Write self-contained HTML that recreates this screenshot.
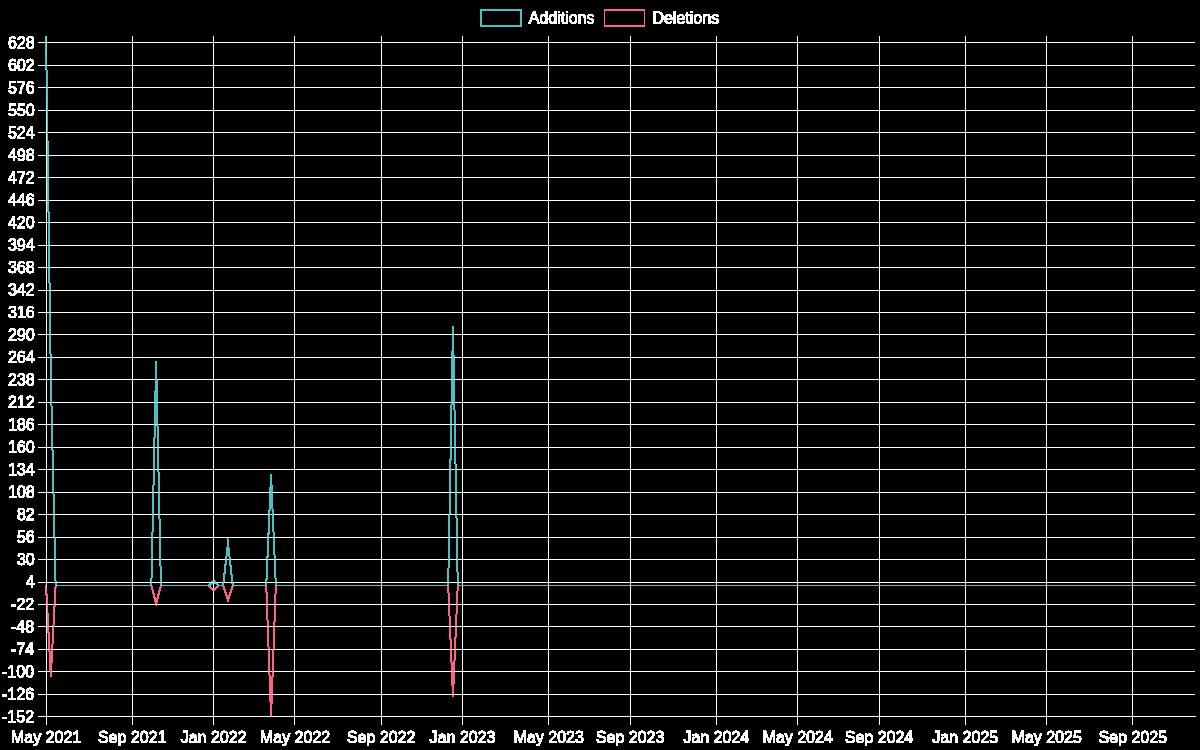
<!DOCTYPE html>
<html lang="en"><head><meta charset="utf-8"><title>Additions and Deletions per week</title>
<style>
html,body{margin:0;padding:0;background:#000;}
body{width:1200px;height:750px;overflow:hidden;font-family:"Liberation Sans",sans-serif;color:#fff;}
svg{display:block;position:absolute;left:0;top:0;shape-rendering:crispEdges;}
.grid rect{fill:#fff;}
.lbl{font-family:"Liberation Sans",sans-serif;font-size:16px;fill:#fff;}
.px{fill:#fff;}
</style></head><body>
<svg width="1200" height="750" viewBox="0 0 1200 750">
<rect width="1200" height="750" fill="#000"/>
<g class="grid">
<rect x="38" y="42" width="1157" height="1"/><rect x="38" y="65" width="1157" height="1"/><rect x="38" y="87" width="1157" height="1"/><rect x="38" y="110" width="1157" height="1"/><rect x="38" y="132" width="1157" height="1"/><rect x="38" y="155" width="1157" height="1"/><rect x="38" y="177" width="1157" height="1"/><rect x="38" y="200" width="1157" height="1"/><rect x="38" y="222" width="1157" height="1"/><rect x="38" y="245" width="1157" height="1"/><rect x="38" y="267" width="1157" height="1"/><rect x="38" y="290" width="1157" height="1"/><rect x="38" y="312" width="1157" height="1"/><rect x="38" y="334" width="1157" height="1"/><rect x="38" y="357" width="1157" height="1"/><rect x="38" y="379" width="1157" height="1"/><rect x="38" y="402" width="1157" height="1"/><rect x="38" y="424" width="1157" height="1"/><rect x="38" y="447" width="1157" height="1"/><rect x="38" y="469" width="1157" height="1"/><rect x="38" y="492" width="1157" height="1"/><rect x="38" y="514" width="1157" height="1"/><rect x="38" y="537" width="1157" height="1"/><rect x="38" y="559" width="1157" height="1"/><rect x="38" y="582" width="1157" height="1"/><rect x="38" y="604" width="1157" height="1"/><rect x="38" y="626" width="1157" height="1"/><rect x="38" y="649" width="1157" height="1"/><rect x="38" y="671" width="1157" height="1"/><rect x="38" y="694" width="1157" height="1"/><rect x="38" y="716" width="1157" height="1"/>
<rect x="46" y="36" width="1" height="689"/><rect x="132" y="36" width="1" height="689"/><rect x="213" y="36" width="1" height="689"/><rect x="294" y="36" width="1" height="689"/><rect x="381" y="36" width="1" height="689"/><rect x="462" y="36" width="1" height="689"/><rect x="548" y="36" width="1" height="689"/><rect x="630" y="36" width="1" height="689"/><rect x="716" y="36" width="1" height="689"/><rect x="797" y="36" width="1" height="689"/><rect x="879" y="36" width="1" height="689"/><rect x="965" y="36" width="1" height="689"/><rect x="1046" y="36" width="1" height="689"/><rect x="1132" y="36" width="1" height="689"/>
<rect x="46" y="716" width="1150" height="1"/>
</g>
<path class="deletions" fill="#ff6384" d="M604 9h41v2h-41zM604 11h1v14h-1zM644 11h1v14h-1zM604 25h41v2h-41zM45 585h1v7h-1zM55 586h1v4h-1zM151 586h2v3h-2zM160 586h2v1h-2zM209 586h2v1h-2zM216 586h3v1h-3zM223 586h1v1h-1zM232 586h1v1h-1zM265 586h2v2h-2zM275 586h2v3h-2zM447 586h2v3h-2zM457 586h2v1h-2zM159 587h2v4h-2zM210 587h2v1h-2zM215 587h3v1h-3zM223 587h2v2h-2zM231 587h2v2h-2zM457 587h1v1h-1zM210 588h3v1h-3zM215 588h2v1h-2zM266 588h1v8h-1zM457 588h2v1h-2zM152 589h1v1h-1zM211 589h2v1h-2zM214 589h2v1h-2zM224 589h1v1h-1zM231 589h1v1h-1zM275 589h1v7h-1zM448 589h1v1h-1zM457 589h1v6h-1zM54 590h2v14h-2zM152 590h2v3h-2zM212 590h1v1h-1zM214 590h1v1h-1zM224 590h2v3h-2zM230 590h2v2h-2zM447 590h2v1h-2zM158 591h2v3h-2zM448 591h1v5h-1zM229 592h2v3h-2zM153 593h1v1h-1zM225 593h2v2h-2zM46 594h1v1h-1zM153 594h2v3h-2zM158 594h1v1h-1zM157 595h2v3h-2zM226 595h1v1h-1zM229 595h1v1h-1zM456 595h2v9h-2zM226 596h4v2h-4zM266 596h2v8h-2zM274 596h2v2h-2zM448 596h2v8h-2zM154 597h1v1h-1zM47 598h1v6h-1zM154 598h2v1h-2zM157 598h1v1h-1zM227 598h2v3h-2zM275 598h1v1h-1zM154 599h4v2h-4zM274 599h2v5h-2zM155 601h3v1h-3zM155 602h2v2h-2zM47 605h1v12h-1zM54 605h1v3h-1zM266 605h2v11h-2zM274 605h2v14h-2zM448 605h2v8h-2zM456 605h2v6h-2zM53 608h2v14h-2zM456 611h1v7h-1zM449 613h1v7h-1zM267 616h1v1h-1zM47 617h2v9h-2zM266 617h2v1h-2zM267 618h1v6h-1zM455 618h2v8h-2zM274 619h1v7h-1zM449 620h2v6h-2zM53 622h1v1h-1zM53 623h2v1h-2zM53 624h1v2h-1zM267 624h2v2h-2zM47 627h2v2h-2zM53 627h1v2h-1zM267 627h2v15h-2zM273 627h2v18h-2zM449 627h2v10h-2zM455 627h2v8h-2zM48 629h1v6h-1zM52 629h2v12h-2zM48 635h2v13h-2zM455 635h1v6h-1zM450 637h1v6h-1zM52 641h1v6h-1zM454 641h2v8h-2zM268 642h1v7h-1zM450 643h2v6h-2zM273 645h1v8h-1zM51 647h2v2h-2zM49 648h1v1h-1zM49 650h1v4h-1zM51 650h2v4h-2zM268 650h1v1h-1zM450 650h2v9h-2zM454 650h2v8h-2zM268 651h2v19h-2zM272 653h2v18h-2zM49 654h4v6h-4zM454 658h1v7h-1zM451 659h1v1h-1zM49 660h3v1h-3zM450 660h2v1h-2zM49 661h4v1h-4zM451 661h1v3h-1zM49 662h3v6h-3zM451 664h2v1h-2zM451 665h1v1h-1zM453 665h2v1h-2zM451 666h4v5h-4zM50 668h2v3h-2zM269 670h1v1h-1zM50 672h2v4h-2zM268 672h2v1h-2zM272 672h2v1h-2zM451 672h4v7h-4zM269 673h1v6h-1zM272 673h1v8h-1zM269 679h2v2h-2zM451 679h3v2h-3zM269 681h4v13h-4zM451 681h4v1h-4zM451 682h3v1h-3zM452 683h2v11h-2zM269 695h4v3h-4zM452 695h2v1h-2zM270 698h3v2h-3zM270 700h2v1h-2zM270 701h3v1h-3zM270 702h2v14h-2z"/>
<path class="additions" fill="#4bc0c0" d="M480 9h41v1h-41zM480 10h42v1h-42zM480 11h2v14h-2zM520 11h2v14h-2zM480 25h42v1h-42zM480 26h41v1h-41zM45 36h1v6h-1zM45 43h1v16h-1zM45 64h1v1h-1zM46 69h1v2h-1zM47 75h1v1h-1zM47 81h1v6h-1zM47 88h1v22h-1zM47 111h1v21h-1zM47 133h1v13h-1zM47 146h2v1h-2zM47 147h1v5h-1zM47 152h2v3h-2zM47 156h2v21h-2zM47 178h2v22h-2zM47 201h2v1h-2zM48 202h1v15h-1zM48 217h2v2h-2zM48 219h1v3h-1zM48 223h2v22h-2zM48 246h2v21h-2zM48 268h2v5h-2zM49 273h1v15h-1zM49 288h2v2h-2zM49 291h1v3h-1zM49 294h2v18h-2zM49 313h2v21h-2zM452 326h2v8h-2zM49 335h2v10h-2zM452 335h2v20h-2zM50 345h1v12h-1zM451 355h3v1h-3zM452 356h2v1h-2zM50 358h1v1h-1zM452 358h2v2h-2zM50 359h2v3h-2zM451 360h3v1h-3zM156 361h1v1h-1zM451 361h4v1h-4zM50 362h1v3h-1zM155 362h2v17h-2zM451 362h3v1h-3zM451 363h4v2h-4zM50 365h2v1h-2zM451 365h3v1h-3zM50 366h1v1h-1zM451 366h4v13h-4zM50 367h2v12h-2zM156 379h1v1h-1zM50 380h2v19h-2zM155 380h2v3h-2zM451 380h4v15h-4zM155 383h3v1h-3zM155 384h2v2h-2zM155 386h3v1h-3zM155 387h2v1h-2zM155 388h3v8h-3zM451 395h1v1h-1zM453 395h2v1h-2zM154 396h4v1h-4zM451 396h4v2h-4zM155 397h3v2h-3zM451 398h1v4h-1zM453 398h2v3h-2zM51 399h1v3h-1zM154 399h4v3h-4zM454 401h1v1h-1zM51 403h1v6h-1zM154 403h4v15h-4zM451 403h1v6h-1zM454 403h1v2h-1zM453 405h2v1h-2zM454 406h1v12h-1zM51 409h2v1h-2zM450 409h2v2h-2zM51 410h1v3h-1zM451 411h1v3h-1zM51 413h2v11h-2zM450 414h2v10h-2zM154 418h2v2h-2zM157 418h1v2h-1zM454 418h2v1h-2zM454 419h1v1h-1zM154 420h4v1h-4zM454 420h2v4h-2zM154 421h2v3h-2zM157 421h1v3h-1zM51 425h2v19h-2zM154 425h2v4h-2zM157 425h1v4h-1zM450 425h2v22h-2zM454 425h2v22h-2zM154 429h1v1h-1zM157 429h2v1h-2zM154 430h2v1h-2zM157 430h1v2h-1zM154 431h1v2h-1zM157 432h2v15h-2zM154 433h2v1h-2zM154 434h1v8h-1zM153 442h2v1h-2zM154 443h1v2h-1zM52 444h1v3h-1zM153 445h2v1h-2zM154 446h1v1h-1zM52 448h1v7h-1zM153 448h2v21h-2zM157 448h2v17h-2zM450 448h2v6h-2zM454 448h2v8h-2zM450 454h1v10h-1zM52 455h2v1h-2zM52 456h1v1h-1zM455 456h1v3h-1zM52 457h2v12h-2zM454 459h2v1h-2zM455 460h1v8h-1zM449 464h2v3h-2zM158 465h1v3h-1zM450 467h1v1h-1zM157 468h2v1h-2zM449 468h2v1h-2zM455 468h2v1h-2zM52 470h2v17h-2zM153 470h2v7h-2zM158 470h1v7h-1zM449 470h2v22h-2zM455 470h1v2h-1zM455 472h2v20h-2zM270 475h2v12h-2zM153 477h1v2h-1zM158 477h2v2h-2zM153 479h2v1h-2zM158 479h1v1h-1zM153 480h1v8h-1zM158 480h2v12h-2zM53 487h1v2h-1zM270 487h3v1h-3zM152 488h2v1h-2zM270 488h2v1h-2zM52 489h2v1h-2zM153 489h1v2h-1zM270 489h3v2h-3zM53 490h1v2h-1zM152 491h2v1h-2zM269 491h4v1h-4zM53 493h1v5h-1zM152 493h2v21h-2zM158 493h2v19h-2zM269 493h4v13h-4zM449 493h2v12h-2zM455 493h2v17h-2zM53 498h2v1h-2zM53 499h1v1h-1zM53 500h2v1h-2zM53 501h1v1h-1zM53 502h2v12h-2zM449 505h1v1h-1zM269 506h2v1h-2zM272 506h1v6h-1zM449 506h2v3h-2zM269 507h1v1h-1zM269 508h2v1h-2zM269 509h1v3h-1zM449 509h1v5h-1zM456 510h1v4h-1zM159 512h1v2h-1zM268 512h2v1h-2zM272 512h2v2h-2zM269 513h1v1h-1zM53 515h2v14h-2zM152 515h2v9h-2zM158 515h2v1h-2zM268 515h2v15h-2zM272 515h2v13h-2zM449 515h1v4h-1zM456 515h1v7h-1zM159 516h1v7h-1zM448 519h2v18h-2zM456 522h2v1h-2zM159 523h2v1h-2zM456 523h1v4h-1zM152 524h1v1h-1zM159 524h1v2h-1zM152 525h2v1h-2zM152 526h1v11h-1zM159 526h2v11h-2zM456 527h2v10h-2zM273 528h1v6h-1zM54 529h1v1h-1zM53 530h2v1h-2zM268 530h1v1h-1zM54 531h1v10h-1zM268 531h2v1h-2zM268 532h1v5h-1zM273 534h2v1h-2zM273 535h1v1h-1zM273 536h2v1h-2zM152 538h1v1h-1zM159 538h2v21h-2zM267 538h2v16h-2zM273 538h2v13h-2zM448 538h2v21h-2zM456 538h2v21h-2zM151 539h2v20h-2zM227 539h1v1h-1zM227 540h2v8h-2zM54 541h2v1h-2zM54 542h1v2h-1zM54 544h2v15h-2zM226 548h3v1h-3zM226 549h4v6h-4zM274 551h1v1h-1zM273 552h2v1h-2zM274 553h1v6h-1zM267 554h1v5h-1zM226 555h1v3h-1zM228 555h2v1h-2zM229 556h1v3h-1zM225 558h2v1h-2zM54 560h2v15h-2zM151 560h2v12h-2zM160 560h1v1h-1zM225 560h2v4h-2zM229 560h2v4h-2zM266 560h2v16h-2zM274 560h2v15h-2zM448 560h1v2h-1zM456 560h2v2h-2zM159 561h2v1h-2zM160 562h1v7h-1zM448 562h2v2h-2zM457 562h1v1h-1zM456 563h2v2h-2zM225 564h1v1h-1zM230 564h1v3h-1zM448 564h1v11h-1zM224 565h2v7h-2zM457 565h1v11h-1zM230 567h2v6h-2zM160 569h2v1h-2zM160 570h1v3h-1zM151 572h1v2h-1zM224 572h1v3h-1zM160 573h2v9h-2zM231 573h1v3h-1zM151 574h2v1h-2zM55 575h1v1h-1zM151 575h1v7h-1zM223 575h2v6h-2zM275 575h1v7h-1zM447 575h2v2h-2zM54 576h2v1h-2zM231 576h2v6h-2zM266 576h1v5h-1zM457 576h2v2h-2zM55 577h1v5h-1zM448 577h1v1h-1zM447 578h2v4h-2zM457 578h1v3h-1zM212 581h1v1h-1zM214 581h1v1h-1zM223 581h1v1h-1zM265 581h2v1h-2zM457 581h2v1h-2zM55 583h1v2h-1zM150 583h2v1h-2zM160 583h2v2h-2zM210 583h2v1h-2zM215 583h2v1h-2zM223 583h1v1h-1zM232 583h1v2h-1zM265 583h2v2h-2zM275 583h2v2h-2zM447 583h2v2h-2zM457 583h2v2h-2zM151 584h1v1h-1zM209 584h2v1h-2zM216 584h2v1h-2zM222 584h2v1h-2zM56 585h95v1h-95zM161 585h48v1h-48zM219 585h4v1h-4zM233 585h33v1h-33zM276 585h172v1h-172zM458 585h737v1h-737z"/>
<g class="blend">
<path fill="#00ffff" d="M47 70h1v1h-1zM47 211h1v1h-1zM48 282h1v1h-1zM451 351h1v1h-1zM49 353h1v1h-1zM454 355h1v1h-1zM154 391h1v1h-1zM450 405h1v1h-1zM453 409h1v1h-1zM156 425h1v1h-1zM449 459h1v1h-1zM451 459h1v1h-1zM159 472h1v1h-1zM272 485h1v1h-1zM52 493h1v1h-1zM270 510h1v1h-1zM450 513h1v1h-1zM153 531h1v1h-1zM269 533h1v1h-1zM266 556h1v1h-1zM224 564h1v1h-1zM231 565h1v1h-1zM449 567h1v1h-1zM458 572h1v1h-1zM150 578h1v1h-1zM265 579h1v1h-1zM211 581h1v1h-1zM214 583h1v1h-1zM210 585h1v1h-1z"/><path fill="#33cccc" d="M45 68h1v1h-1zM47 71h1v1h-1zM48 142h1v1h-1zM47 210h1v1h-1zM49 213h1v1h-1zM48 281h1v1h-1zM49 352h1v1h-1zM450 406h1v1h-1zM449 460h1v1h-1zM157 471h1v1h-1zM54 494h1v1h-1zM450 512h1v1h-1zM153 530h1v1h-1zM272 531h1v1h-1zM151 532h1v1h-1zM275 555h1v1h-1zM449 566h1v1h-1zM458 573h1v1h-1zM230 574h1v1h-1zM276 578h1v1h-1zM211 584h1v1h-1z"/><path fill="#40bfbf" d="M48 280h1v1h-1zM49 351h1v1h-1zM454 356h1v1h-1zM157 380h1v1h-1zM452 403h1v2h-1zM455 411h1v1h-1zM158 426h1v1h-1zM155 436h1v1h-1zM153 439h1v1h-1zM51 448h1v1h-1zM53 450h1v1h-1zM451 458h1v1h-1zM270 474h1v1h-1zM152 485h1v1h-1zM271 508h1v1h-1zM455 516h1v1h-1zM229 565h1v1h-1zM447 568h1v2h-1zM456 570h1v2h-1zM152 577h1v1h-1zM54 580h1v1h-1z"/><path fill="#44bbbb" d="M49 349h1v1h-1zM451 354h1v1h-1zM453 406h1v1h-1zM52 408h1v1h-1zM450 408h1v1h-1zM158 428h1v1h-1zM152 487h1v1h-1zM271 507h1v1h-1zM449 564h1v1h-1zM152 575h1v1h-1zM458 575h1v1h-1zM276 579h1v1h-1z"/><path fill="#46b9b9" d="M453 407h1v1h-1zM454 461h1v1h-1zM54 495h1v1h-1zM457 520h1v1h-1zM153 529h1v1h-1zM151 533h1v1h-1zM53 535h1v1h-1zM268 555h1v1h-1zM266 557h1v1h-1z"/><path fill="#46c5c5" d="M452 400h1v1h-1zM455 414h1v1h-1zM53 453h1v1h-1zM159 476h1v1h-1zM455 513h1v1h-1zM153 527h1v1h-1zM151 535h1v1h-1zM268 554h1v1h-1zM266 558h1v1h-1zM231 566h1v1h-1zM54 577h1v1h-1z"/><path fill="#47c2c2" d="M451 356h1v1h-1zM155 361h1v1h-1zM453 404h1v1h-1zM51 445h1v1h-1zM269 489h1v1h-1zM457 523h1v1h-1zM161 570h1v1h-1z"/><path fill="#47c6c6" d="M454 359h1v1h-1zM154 394h1v1h-1zM452 401h1v1h-1zM451 455h1v1h-1zM154 481h1v1h-1zM52 490h1v1h-1zM273 510h1v1h-1zM448 517h1v1h-1zM160 522h1v1h-1zM55 540h1v1h-1zM159 562h1v1h-1zM456 568h1v1h-1zM447 571h1v1h-1zM274 576h1v1h-1z"/><path fill="#48bebe" d="M451 359h1v1h-1zM154 398h1v1h-1zM453 401h1v1h-1zM156 418h1v1h-1zM53 456h1v1h-1zM154 477h1v1h-1zM457 526h1v1h-1zM274 535h1v1h-1zM273 551h1v1h-1zM458 580h1v1h-1z"/><path fill="#48bfbf" d="M521 9h1v1h-1zM521 26h1v1h-1zM454 362h1v1h-1zM452 398h1v1h-1zM50 400h1v1h-1zM52 411h1v1h-1zM157 466h1v1h-1zM269 530h1v1h-1zM456 565h1v1h-1zM225 572h1v1h-1zM230 573h1v1h-1zM447 574h1v1h-1z"/><path fill="#49b6b6" d="M154 392h1v1h-1zM454 462h1v1h-1zM456 465h1v1h-1zM154 483h1v1h-1zM273 509h1v1h-1zM160 520h1v1h-1zM55 538h1v1h-1zM159 564h1v1h-1zM274 577h1v1h-1zM215 581h1v1h-1zM209 583h1v1h-1z"/><path fill="#49bdbd" d="M50 292h1v1h-1zM51 363h1v1h-1zM155 431h1v1h-1zM153 444h1v1h-1zM454 456h1v1h-1zM456 471h1v1h-1zM268 513h1v1h-1zM160 525h1v1h-1zM457 525h1v1h-1zM53 531h1v1h-1z"/><path fill="#49c8c8" d="M50 403h1v1h-1zM451 456h1v1h-1zM449 462h1v1h-1zM269 488h1v1h-1zM450 510h1v1h-1zM158 516h1v1h-1zM448 516h1v1h-1zM161 568h1v1h-1z"/><path fill="#4abdbd" d="M45 61h1v1h-1zM48 149h1v1h-1zM49 220h1v1h-1zM50 291h1v1h-1zM51 362h1v1h-1zM455 416h1v1h-1zM158 431h1v1h-1zM51 444h1v1h-1zM456 470h1v1h-1zM272 488h1v1h-1zM152 490h1v1h-1zM270 507h1v1h-1zM455 511h1v1h-1zM158 513h1v1h-1zM161 571h1v1h-1zM152 572h1v1h-1zM233 584h1v1h-1z"/><path fill="#4ac3c3" d="M45 59h1v1h-1zM47 80h1v1h-1zM48 151h1v1h-1zM50 293h1v1h-1zM51 364h1v1h-1zM50 399h1v1h-1zM52 412h1v1h-1zM450 413h1v1h-1zM157 465h1v1h-1zM449 467h1v1h-1zM159 479h1v1h-1zM450 505h1v1h-1zM153 524h1v1h-1zM272 528h1v1h-1zM151 538h1v1h-1zM275 558h1v1h-1zM276 581h1v1h-1zM218 584h1v1h-1z"/><path fill="#4bc3c3" d="M45 60h1v1h-1zM47 79h1v1h-1zM48 150h1v1h-1zM47 202h1v1h-1zM49 221h1v1h-1zM48 273h1v1h-1zM51 358h1v1h-1zM451 358h1v1h-1zM154 397h1v1h-1zM450 412h1v1h-1zM455 413h1v1h-1zM156 419h1v1h-1zM156 422h1v1h-1zM159 475h1v1h-1zM154 478h1v1h-1zM54 496h1v1h-1zM54 499h1v1h-1zM274 533h1v1h-1zM53 534h1v1h-1zM267 536h1v1h-1zM273 553h1v1h-1zM225 556h1v1h-1zM230 557h1v1h-1zM449 560h1v1h-1zM54 575h1v1h-1zM267 576h1v1h-1zM458 579h1v1h-1zM150 581h1v1h-1zM150 584h1v1h-1zM208 584h1v1h-1z"/><path fill="#4cbdbd" d="M45 62h1v1h-1zM47 77h1v1h-1zM48 148h1v1h-1zM47 204h1v1h-1zM49 219h1v1h-1zM452 399h1v1h-1zM455 415h1v1h-1zM53 454h1v1h-1zM157 467h1v1h-1zM153 526h1v1h-1zM272 529h1v1h-1zM151 536h1v1h-1zM275 557h1v1h-1zM456 566h1v1h-1zM447 573h1v1h-1zM276 580h1v1h-1zM217 583h1v1h-1z"/><path fill="#4cc4c4" d="M47 78h1v1h-1zM47 203h1v1h-1zM48 274h1v1h-1zM49 345h1v1h-1zM157 384h1v1h-1zM453 403h1v1h-1zM155 432h1v1h-1zM153 443h1v1h-1zM454 457h1v1h-1zM52 488h1v1h-1zM457 524h1v1h-1zM222 583h1v1h-1z"/><path fill="#4ccccc" d="M451 353h1v1h-1zM450 407h1v1h-1zM158 427h1v1h-1zM53 451h1v1h-1zM449 461h1v1h-1zM157 470h1v1h-1zM269 532h1v1h-1zM228 539h1v1h-1zM226 564h1v1h-1zM449 565h1v1h-1zM458 574h1v1h-1zM54 579h1v1h-1zM265 580h1v1h-1z"/><path fill="#4ebcbc" d="M45 63h1v1h-1zM47 76h1v1h-1zM48 147h1v1h-1zM47 205h1v1h-1zM48 276h1v1h-1zM49 347h1v1h-1zM454 360h1v1h-1zM154 395h1v1h-1zM156 421h1v1h-1zM451 454h1v1h-1zM154 480h1v1h-1zM54 497h1v1h-1zM448 518h1v1h-1zM53 533h1v1h-1zM267 535h1v1h-1zM456 567h1v1h-1zM447 572h1v1h-1zM267 577h1v1h-1z"/><path fill="#4ebfbf" d="M157 385h1v1h-1zM455 417h1v1h-1zM52 487h1v1h-1zM269 490h1v1h-1zM455 510h1v1h-1zM158 512h1v1h-1zM55 543h1v1h-1zM229 564h1v1h-1zM161 572h1v1h-1zM218 585h1v1h-1z"/><path fill="#4ec1c1" d="M449 514h1v1h-1z"/><path fill="#4ec2c2" d="M454 365h1v1h-1zM51 366h1v1h-1zM157 387h1v1h-1zM452 395h1v1h-1zM455 419h1v1h-1zM155 429h1v1h-1zM153 446h1v1h-1zM54 501h1v1h-1zM53 529h1v1h-1zM225 557h1v1h-1zM230 558h1v1h-1zM456 562h1v1h-1zM447 577h1v1h-1z"/><path fill="#4ec4c4" d="M45 66h1v1h-1zM48 144h1v1h-1zM49 215h1v1h-1zM48 275h1v1h-1zM50 286h1v1h-1zM49 346h1v1h-1zM454 358h1v1h-1zM157 381h1v1h-1zM50 401h1v1h-1zM52 410h1v1h-1zM158 430h1v1h-1zM155 435h1v1h-1zM153 440h1v1h-1zM454 458h1v1h-1zM152 489h1v1h-1zM271 506h1v1h-1zM268 511h1v1h-1zM455 512h1v1h-1zM160 521h1v1h-1zM229 548h1v1h-1zM227 555h1v1h-1zM159 563h1v1h-1zM456 569h1v1h-1zM447 570h1v1h-1zM152 573h1v1h-1zM223 574h1v1h-1zM232 575h1v1h-1zM56 583h1v1h-1zM212 583h1v1h-1z"/><path fill="#4fc1c1" d="M46 68h1v1h-1zM46 71h1v1h-1zM450 411h1v1h-1zM157 424h1v1h-1zM273 511h1v1h-1zM160 524h1v1h-1zM53 532h1v1h-1zM55 542h1v1h-1zM159 560h1v1h-1zM449 561h1v1h-1zM274 575h1v1h-1zM458 578h1v1h-1zM213 581h1v1h-1zM224 581h1v1h-1z"/><path fill="#50bfbf" d="M47 74h1v1h-1zM48 145h1v1h-1zM47 207h1v1h-1zM49 216h1v1h-1zM48 278h1v1h-1zM50 287h1v1h-1zM53 452h1v1h-1zM454 460h1v1h-1zM456 467h1v1h-1zM457 521h1v1h-1zM153 528h1v1h-1zM272 530h1v1h-1zM151 534h1v1h-1zM275 556h1v1h-1zM54 578h1v1h-1z"/><path fill="#50c2c2" d="M53 492h1v1h-1zM55 582h1v1h-1zM223 582h1v1h-1z"/><path fill="#51bcbc" d="M47 206h1v1h-1zM48 277h1v1h-1zM49 348h1v1h-1zM157 382h1v1h-1zM155 434h1v1h-1zM153 441h1v1h-1zM51 446h1v1h-1zM449 463h1v1h-1zM450 509h1v1h-1zM56 584h1v1h-1z"/><path fill="#51c2c2" d="M46 67h1v1h-1zM46 72h1v1h-1zM453 357h1v1h-1z"/><path fill="#53c3c3" d="M46 73h1v1h-1z"/><path fill="#54c3c3" d="M46 66h1v1h-1zM50 357h1v1h-1zM451 402h1v1h-1zM52 447h1v1h-1z"/><path fill="#55aaaa" d="M50 405h1v1h-1zM52 406h1v1h-1zM455 410h1v1h-1zM155 437h1v1h-1zM269 487h1v1h-1zM455 517h1v1h-1zM158 518h1v1h-1zM161 566h1v1h-1zM232 574h1v1h-1zM267 579h1v1h-1zM231 583h1v1h-1z"/><path fill="#55bfbf" d="M47 73h1v1h-1zM47 208h1v1h-1zM48 279h1v1h-1zM49 350h1v1h-1zM154 393h1v1h-1zM455 412h1v1h-1zM156 423h1v1h-1zM456 466h1v1h-1zM159 474h1v1h-1zM154 482h1v1h-1zM52 491h1v1h-1zM455 515h1v1h-1zM267 534h1v1h-1zM55 539h1v1h-1zM226 547h1v1h-1zM228 556h1v1h-1zM267 578h1v1h-1zM150 580h1v1h-1z"/><path fill="#55c6c6" d="M45 67h1v1h-1zM47 72h1v1h-1zM48 143h1v1h-1zM47 209h1v1h-1zM49 214h1v1h-1zM50 285h1v1h-1zM51 356h1v1h-1zM50 404h1v1h-1zM52 407h1v1h-1zM451 457h1v1h-1zM271 474h1v1h-1zM152 486h1v1h-1zM272 486h1v1h-1zM270 509h1v1h-1zM450 511h1v1h-1zM448 515h1v1h-1zM158 517h1v1h-1zM161 567h1v1h-1zM152 576h1v1h-1z"/><path fill="#55d4d4" d="M50 284h1v1h-1zM451 352h1v1h-1zM51 355h1v1h-1zM453 408h1v1h-1zM159 473h1v1h-1zM457 519h1v1h-1zM274 532h1v1h-1zM53 536h1v1h-1zM273 554h1v1h-1zM225 573h1v1h-1zM150 579h1v1h-1zM233 583h1v1h-1z"/><path fill="#56c4c4" d="M46 65h1v1h-1zM46 74h1v1h-1zM158 469h1v1h-1z"/><path fill="#57c4c4" d="M456 514h1v1h-1z"/><path fill="#58c5c5" d="M46 75h1v1h-1z"/><path fill="#59c5c5" d="M46 64h1v1h-1zM51 402h1v1h-1z"/><path fill="#5bc6c6" d="M46 63h1v1h-1zM46 76h1v1h-1zM151 582h1v1h-1z"/><path fill="#5cb7ba" d="M55 585h1v1h-1z"/><path fill="#5dc6c6" d="M455 469h1v1h-1zM159 514h1v1h-1zM232 582h1v1h-1z"/><path fill="#5ec7c7" d="M46 62h1v1h-1zM46 77h1v1h-1zM49 290h1v1h-1z"/><path fill="#5fc7c7" d="M452 357h1v1h-1z"/><path fill="#60c7c7" d="M46 78h1v1h-1zM47 132h1v1h-1z"/><path fill="#61c8c8" d="M46 61h1v1h-1zM266 582h1v1h-1z"/><path fill="#62c8c8" d="M152 537h1v1h-1zM267 559h1v1h-1z"/><path fill="#63c8c8" d="M46 60h1v1h-1zM46 79h1v1h-1zM454 402h1v1h-1z"/><path fill="#64b4b8" d="M151 585h1v1h-1z"/><path fill="#64c9c9" d="M160 559h1v1h-1z"/><path fill="#66c9c9" d="M46 59h1v1h-1zM46 80h1v1h-1zM48 222h1v1h-1zM448 559h1v1h-1z"/><path fill="#68caca" d="M46 58h1v1h-1zM46 81h1v1h-1zM48 200h1v1h-1z"/><path fill="#69caca" d="M153 492h1v1h-1z"/><path fill="#6acbcb" d="M268 537h1v1h-1z"/><path fill="#6bcbcb" d="M46 57h1v1h-1zM46 82h1v1h-1zM269 514h1v1h-1z"/><path fill="#6ccccc" d="M450 469h1v1h-1zM275 582h1v1h-1z"/><path fill="#6dcccc" d="M46 83h1v1h-1zM457 582h1v1h-1z"/><path fill="#6eadb4" d="M457 585h1v1h-1z"/><path fill="#6eaeb4" d="M232 585h1v1h-1z"/><path fill="#6ecccc" d="M46 56h1v1h-1zM274 559h1v1h-1z"/><path fill="#6faeb4" d="M266 585h1v1h-1z"/><path fill="#70cdcd" d="M46 55h1v1h-1zM46 84h1v1h-1zM47 155h1v1h-1zM154 447h1v1h-1zM212 582h1v1h-1z"/><path fill="#72cece" d="M49 267h1v1h-1z"/><path fill="#73cece" d="M46 54h1v1h-1zM46 85h1v1h-1zM450 447h1v1h-1z"/><path fill="#74cece" d="M270 492h1v1h-1z"/><path fill="#75cfcf" d="M46 53h1v1h-1zM46 86h1v1h-1zM457 559h1v1h-1z"/><path fill="#76aab2" d="M275 585h1v1h-1z"/><path fill="#76cfcf" d="M155 402h1v1h-1zM273 537h1v1h-1z"/><path fill="#77cfcf" d="M272 514h1v1h-1z"/><path fill="#77d0d0" d="M46 52h1v1h-1zM46 87h1v1h-1z"/><path fill="#78aab2" d="M448 585h1v1h-1z"/><path fill="#78d0d0" d="M155 379h1v1h-1zM215 582h1v1h-1z"/><path fill="#7aa8b1" d="M223 585h1v1h-1z"/><path fill="#7ad0d0" d="M46 88h1v1h-1z"/><path fill="#7ad1d1" d="M46 51h1v1h-1z"/><path fill="#7cd1d1" d="M46 50h1v1h-1zM46 89h1v1h-1zM50 334h1v1h-1zM454 424h1v1h-1zM448 582h1v1h-1z"/><path fill="#7fa5ae" d="M209 585h1v1h-1z"/><path fill="#7fd2d2" d="M46 49h1v1h-1zM46 90h1v1h-1zM154 424h1v1h-1zM271 492h1v1h-1zM229 559h1v1h-1z"/><path fill="#80ffff" d="M45 69h1v1h-1zM48 141h1v1h-1zM49 212h1v1h-1zM50 283h1v1h-1zM51 354h1v1h-1zM153 438h1v1h-1zM51 449h1v1h-1zM454 463h1v1h-1zM456 464h1v1h-1zM154 484h1v1h-1zM268 510h1v1h-1zM457 518h1v1h-1zM160 519h1v1h-1zM267 533h1v1h-1zM227 538h1v1h-1zM268 556h1v1h-1zM159 565h1v1h-1zM223 573h1v1h-1zM214 580h1v1h-1zM56 581h1v1h-1z"/><path fill="#81a4ae" d="M160 585h1v1h-1z"/><path fill="#81d3d3" d="M46 48h1v1h-1zM46 91h1v1h-1zM455 447h1v1h-1z"/><path fill="#83d4d4" d="M452 334h1v1h-1z"/><path fill="#84d4d4" d="M46 47h1v1h-1zM46 92h1v1h-1z"/><path fill="#86d5d5" d="M46 93h1v1h-1zM153 469h1v1h-1z"/><path fill="#87a3ad" d="M217 585h1v1h-1z"/><path fill="#87d5d5" d="M46 46h1v1h-1z"/><path fill="#88d5d5" d="M214 582h1v1h-1z"/><path fill="#89d6d6" d="M46 45h1v1h-1zM46 94h1v1h-1z"/><path fill="#8bd6d6" d="M451 424h1v1h-1zM456 537h1v1h-1zM160 582h1v1h-1z"/><path fill="#8cd7d7" d="M46 44h1v1h-1zM46 95h1v1h-1z"/><path fill="#8dd7d7" d="M152 514h1v1h-1z"/><path fill="#8ed7d7" d="M46 96h1v1h-1z"/><path fill="#8fd8d8" d="M46 43h1v1h-1z"/><path fill="#91d8d8" d="M46 42h1v1h-1zM46 97h1v1h-1zM449 492h1v1h-1z"/><path fill="#92d9d9" d="M453 334h1v1h-1zM50 379h1v1h-1zM159 537h1v1h-1z"/><path fill="#93d9d9" d="M46 98h1v1h-1zM211 582h1v1h-1z"/><path fill="#94d9d9" d="M46 41h1v1h-1zM151 559h1v1h-1zM226 559h1v1h-1z"/><path fill="#96dada" d="M46 40h1v1h-1zM46 99h1v1h-1z"/><path fill="#97dada" d="M49 312h1v1h-1z"/><path fill="#97dbdb" d="M51 424h1v1h-1z"/><path fill="#99dbdb" d="M46 39h1v1h-1zM46 100h1v1h-1zM47 110h1v1h-1zM158 492h1v1h-1z"/><path fill="#9adcdc" d="M453 379h1v1h-1z"/><path fill="#9bdcdc" d="M46 38h1v1h-1zM46 101h1v1h-1zM449 537h1v1h-1z"/><path fill="#9cdcdc" d="M52 469h1v1h-1z"/><path fill="#9edddd" d="M46 37h1v1h-1zM46 102h1v1h-1z"/><path fill="#9fdddd" d="M157 447h1v1h-1z"/><path fill="#a0dede" d="M46 103h1v1h-1zM48 245h1v1h-1zM456 492h1v1h-1z"/><path fill="#a1dede" d="M451 379h1v1h-1zM53 514h1v1h-1z"/><path fill="#a3dfdf" d="M46 104h1v1h-1zM48 177h1v1h-1z"/><path fill="#a5dfdf" d="M46 105h1v1h-1zM157 402h1v1h-1zM55 559h1v1h-1z"/><path fill="#a5e0e0" d="M156 402h1v1h-1zM54 559h1v1h-1z"/><path fill="#a6e0e0" d="M46 36h1v1h-1z"/><path fill="#a7e0e0" d="M46 106h1v1h-1zM47 177h1v1h-1z"/><path fill="#a9e1e1" d="M452 379h1v1h-1zM54 514h1v1h-1z"/><path fill="#aa95aa" d="M1195 585h1v1h-1z"/><path fill="#aae1e1" d="M46 107h1v1h-1zM49 245h1v1h-1zM455 492h1v1h-1z"/><path fill="#abe2e2" d="M158 447h1v1h-1z"/><path fill="#ace2e2" d="M46 108h1v1h-1z"/><path fill="#aee3e3" d="M53 469h1v1h-1z"/><path fill="#afe3e3" d="M46 109h1v1h-1zM448 537h1v1h-1z"/><path fill="#b0e3e3" d="M454 379h1v1h-1z"/><path fill="#b1e4e4" d="M46 110h1v1h-1zM159 492h1v1h-1z"/><path fill="#b3e4e4" d="M52 424h1v1h-1z"/><path fill="#b3e5e5" d="M50 312h1v1h-1z"/><path fill="#b4e5e5" d="M46 111h1v1h-1z"/><path fill="#b6e5e5" d="M225 559h1v1h-1z"/><path fill="#b6e6e6" d="M46 112h1v1h-1z"/><path fill="#b7e6e6" d="M152 559h1v1h-1z"/><path fill="#b8e6e6" d="M51 379h1v1h-1zM160 537h1v1h-1z"/><path fill="#b9e7e7" d="M45 42h1v1h-1zM46 113h1v1h-1zM450 492h1v1h-1z"/><path fill="#bce8e8" d="M46 114h1v1h-1z"/><path fill="#bde8e8" d="M153 514h1v1h-1z"/><path fill="#bee8e8" d="M46 115h1v1h-1z"/><path fill="#bfe9e9" d="M450 424h1v1h-1zM457 537h1v1h-1zM161 582h1v1h-1z"/><path fill="#c1e9e9" d="M46 116h1v1h-1z"/><path fill="#c3eaea" d="M46 117h1v1h-1z"/><path fill="#c4eaea" d="M154 469h1v1h-1z"/><path fill="#c6ebeb" d="M46 118h1v1h-1z"/><path fill="#c8ecec" d="M454 447h1v1h-1z"/><path fill="#c9ecec" d="M46 119h1v1h-1z"/><path fill="#caecec" d="M272 492h1v1h-1zM230 559h1v1h-1z"/><path fill="#cbeded" d="M46 120h1v1h-1zM155 424h1v1h-1z"/><path fill="#ceeeee" d="M46 121h1v1h-1zM49 334h1v1h-1zM455 424h1v1h-1zM447 582h1v1h-1z"/><path fill="#d0eeee" d="M46 122h1v1h-1zM213 580h1v1h-1z"/><path fill="#d3efef" d="M47 87h1v1h-1zM46 123h1v1h-1zM273 514h1v1h-1z"/><path fill="#d3f0f0" d="M274 537h1v1h-1z"/><path fill="#d4f0f0" d="M154 402h1v1h-1z"/><path fill="#d5f0f0" d="M46 124h1v1h-1zM456 559h1v1h-1z"/><path fill="#d6f1f1" d="M269 492h1v1h-1z"/><path fill="#d7f1f1" d="M46 125h1v1h-1zM451 447h1v1h-1z"/><path fill="#d8f1f1" d="M48 267h1v1h-1z"/><path fill="#daf2f2" d="M46 126h1v1h-1zM48 155h1v1h-1zM153 447h1v1h-1z"/><path fill="#dcf3f3" d="M275 559h1v1h-1z"/><path fill="#ddf3f3" d="M46 127h1v1h-1zM276 582h1v1h-1zM458 582h1v1h-1z"/><path fill="#def3f3" d="M449 469h1v1h-1z"/><path fill="#dff4f4" d="M46 128h1v1h-1zM268 514h1v1h-1zM267 537h1v1h-1z"/><path fill="#e1f5f5" d="M152 492h1v1h-1z"/><path fill="#e2f5f5" d="M46 129h1v1h-1zM47 200h1v1h-1z"/><path fill="#e4f6f6" d="M46 130h1v1h-1zM49 222h1v1h-1zM449 559h1v1h-1z"/><path fill="#e7f7f7" d="M46 131h1v1h-1zM453 402h1v1h-1zM159 559h1v1h-1z"/><path fill="#e8f7f7" d="M151 537h1v1h-1zM266 559h1v1h-1zM265 582h1v1h-1z"/><path fill="#eaf8f8" d="M46 132h1v1h-1zM451 357h1v1h-1z"/><path fill="#ebf8f8" d="M213 582h1v1h-1z"/><path fill="#ecf8f8" d="M46 133h1v1h-1zM50 290h1v1h-1zM231 582h1v1h-1z"/><path fill="#edf9f9" d="M456 469h1v1h-1zM158 514h1v1h-1z"/><path fill="#eff9f9" d="M46 134h1v1h-1zM150 582h1v1h-1z"/><path fill="#f1fafa" d="M46 135h1v1h-1zM50 402h1v1h-1z"/><path fill="#f3fbfb" d="M455 514h1v1h-1z"/><path fill="#f4fbfb" d="M45 65h1v1h-1zM46 136h1v1h-1zM157 469h1v1h-1zM216 582h1v1h-1z"/><path fill="#f6fcfc" d="M51 357h1v1h-1zM452 402h1v1h-1zM51 447h1v1h-1z"/><path fill="#f7fcfc" d="M46 137h1v1h-1z"/><path fill="#f9fdfd" d="M46 138h1v1h-1zM454 357h1v1h-1z"/><path fill="#fafdfd" d="M52 492h1v1h-1zM56 582h1v1h-1z"/><path fill="#fbfefe" d="M46 139h1v1h-1zM156 424h1v1h-1z"/><path fill="#fcfefe" d="M448 514h1v1h-1zM222 582h1v1h-1zM224 582h1v1h-1z"/><path fill="#fdfefe" d="M157 379h1v1h-1zM210 582h1v1h-1z"/><path fill="#feffff" d="M46 140h1v1h-1zM55 537h1v1h-1z"/><path fill="#ff00ff" d="M150 586h1v1h-1zM56 587h1v1h-1zM161 587h1v1h-1zM153 589h1v1h-1zM158 590h1v1h-1zM265 592h1v1h-1zM55 606h1v1h-1zM273 621h1v1h-1zM456 637h1v1h-1zM449 639h1v1h-1zM48 651h1v1h-1zM453 660h1v1h-1zM455 660h1v1h-1zM450 662h1v1h-1zM49 670h1v1h-1zM271 676h1v1h-1zM451 685h1v1h-1z"/><path fill="#ff5580" d="M232 589h1v1h-1zM154 593h1v1h-1zM227 595h1v1h-1zM268 620h1v1h-1zM274 648h1v1h-1zM269 701h1v1h-1z"/><path fill="#ff558e" d="M225 589h1v1h-1zM265 591h1v1h-1zM54 624h1v1h-1zM456 636h1v1h-1zM449 638h1v1h-1zM53 643h1v1h-1zM271 677h1v1h-1zM452 696h1v1h-1z"/><path fill="#ff55aa" d="M54 587h1v1h-1zM274 594h1v1h-1zM154 601h1v1h-1zM157 602h1v1h-1zM455 614h1v1h-1zM451 639h1v1h-1zM269 647h1v1h-1zM50 651h1v1h-1zM452 662h1v1h-1zM268 674h1v1h-1z"/><path fill="#ff5b80" d="M155 597h1v1h-1zM455 615h1v1h-1zM450 617h1v1h-1zM49 633h1v1h-1zM50 652h1v1h-1zM272 702h1v1h-1z"/><path fill="#ff5d8b" d="M56 586h1v1h-1zM230 595h1v1h-1zM55 605h1v1h-1zM275 620h1v1h-1zM269 648h1v1h-1zM453 661h1v1h-1zM451 684h1v1h-1z"/><path fill="#ff5e84" d="M225 595h1v1h-1zM48 615h1v1h-1zM273 624h1v1h-1zM47 630h1v1h-1zM49 634h1v1h-1zM271 679h1v1h-1z"/><path fill="#ff5e86" d="M458 589h1v1h-1zM267 594h1v1h-1zM228 595h1v1h-1zM457 612h1v1h-1zM448 614h1v1h-1zM51 645h1v1h-1zM273 674h1v1h-1z"/><path fill="#ff6080" d="M222 586h1v1h-1zM458 590h1v1h-1zM226 592h1v1h-1zM231 592h1v1h-1zM276 592h1v1h-1zM153 597h1v1h-1zM457 613h1v1h-1zM448 615h1v1h-1zM268 622h1v1h-1zM273 622h1v1h-1zM454 639h1v1h-1zM451 641h1v1h-1zM267 646h1v1h-1zM274 646h1v1h-1zM52 662h1v1h-1zM51 676h1v1h-1zM453 696h1v1h-1zM269 700h1v1h-1z"/><path fill="#ff6082" d="M276 589h1v1h-1zM52 628h1v1h-1zM267 642h1v1h-1zM453 664h1v1h-1zM454 679h1v1h-1z"/><path fill="#ff6083" d="M214 588h1v1h-1zM265 588h1v1h-1zM456 594h1v1h-1zM227 601h1v1h-1zM54 622h1v1h-1zM271 680h1v1h-1z"/><path fill="#ff6087" d="M231 586h1v1h-1zM266 616h1v1h-1zM52 627h1v1h-1zM51 646h1v1h-1zM272 652h1v1h-1zM450 659h1v1h-1zM272 700h1v1h-1z"/><path fill="#ff6280" d="M230 589h1v1h-1zM276 591h1v1h-1zM456 593h1v1h-1zM449 595h1v1h-1zM47 596h1v1h-1zM267 644h1v1h-1zM49 668h1v1h-1zM270 677h1v1h-1z"/><path fill="#ff6287" d="M209 587h1v1h-1zM226 598h1v1h-1zM268 623h1v1h-1zM274 645h1v1h-1zM453 663h1v1h-1zM452 665h1v1h-1zM454 680h1v1h-1zM269 698h1v1h-1z"/><path fill="#ff6289" d="M224 586h1v1h-1zM47 595h1v1h-1zM229 598h1v1h-1zM48 614h1v1h-1zM266 618h1v1h-1zM47 631h1v1h-1zM454 638h1v1h-1zM451 640h1v1h-1zM48 650h1v1h-1zM272 650h1v1h-1z"/><path fill="#ff6380" d="M265 590h1v1h-1zM447 591h1v1h-1zM271 678h1v1h-1z"/><path fill="#ff6387" d="M455 617h1v1h-1zM450 619h1v1h-1zM273 625h1v1h-1zM53 641h1v1h-1zM267 643h1v1h-1zM50 676h1v1h-1z"/><path fill="#ff6480" d="M265 589h1v1h-1zM45 592h1v1h-1zM267 595h1v1h-1zM50 653h1v1h-1zM273 673h1v1h-1z"/><path fill="#ff6680" d="M223 589h1v1h-1zM267 593h1v1h-1zM159 594h1v1h-1zM158 598h1v1h-1zM275 619h1v1h-1zM456 635h1v1h-1zM449 637h1v1h-1zM455 659h1v1h-1zM450 661h1v1h-1zM273 675h1v1h-1z"/><path fill="#ff6683" d="M276 590h1v1h-1zM454 640h1v1h-1zM451 642h1v1h-1zM52 660h1v1h-1zM270 678h1v1h-1z"/><path fill="#ff6685" d="M156 605h1v1h-1zM455 616h1v1h-1zM450 618h1v1h-1zM269 699h1v1h-1z"/><path fill="#ff6686" d="M458 587h1v1h-1zM447 589h1v1h-1zM213 590h1v1h-1zM47 597h1v1h-1zM274 598h1v1h-1zM48 616h1v1h-1zM47 629h1v1h-1zM48 648h1v1h-1zM268 670h1v1h-1z"/><path fill="#ff6688" d="M54 589h1v1h-1zM151 589h1v1h-1zM456 592h1v1h-1zM45 593h1v1h-1zM449 594h1v1h-1zM457 611h1v1h-1zM448 613h1v1h-1zM268 621h1v1h-1zM274 647h1v1h-1zM269 650h1v1h-1z"/><path fill="#ff6699" d="M449 593h1v1h-1zM52 625h1v1h-1zM51 644h1v1h-1zM272 703h1v1h-1z"/><path fill="#ff6880" d="M208 586h1v1h-1zM53 642h1v1h-1zM272 651h1v1h-1zM455 658h1v1h-1zM453 662h1v1h-1zM451 683h1v1h-1z"/><path fill="#ff6987" d="M54 588h1v1h-1zM152 593h1v1h-1zM228 601h1v1h-1zM53 607h1v1h-1zM273 623h1v1h-1zM267 645h1v1h-1zM270 676h1v1h-1z"/><path fill="#ff6a80" d="M274 595h1v1h-1zM156 598h1v1h-1zM452 663h1v1h-1zM49 669h1v1h-1zM268 673h1v1h-1zM454 682h1v1h-1z"/><path fill="#ff6a8a" d="M46 595h1v1h-1z"/><path fill="#ff6c8b" d="M46 593h1v1h-1zM50 671h1v1h-1z"/><path fill="#ff6d8c" d="M53 626h1v1h-1z"/><path fill="#ff6d92" d="M447 592h1v1h-1zM276 593h1v1h-1zM270 675h1v1h-1z"/><path fill="#ff6f8e" d="M268 649h1v1h-1z"/><path fill="#ff718f" d="M54 604h1v1h-1z"/><path fill="#ff7290" d="M46 596h1v1h-1z"/><path fill="#ff7391" d="M49 649h1v1h-1z"/><path fill="#ff7491" d="M46 592h1v1h-1z"/><path fill="#ff7592" d="M269 671h1v1h-1z"/><path fill="#ff7b97" d="M46 591h1v1h-1zM46 597h1v1h-1z"/><path fill="#ff7e99" d="M274 626h1v1h-1z"/><path fill="#ff7f9a" d="M272 671h1v1h-1z"/><path fill="#ff8080" d="M233 586h1v1h-1zM456 591h1v1h-1zM267 592h1v1h-1zM45 594h1v1h-1zM47 594h1v1h-1zM157 594h1v1h-1zM53 606h1v1h-1zM48 613h1v1h-1zM450 616h1v1h-1zM266 619h1v1h-1zM275 621h1v1h-1zM47 632h1v1h-1zM49 632h1v1h-1zM454 637h1v1h-1zM273 676h1v1h-1zM454 683h1v1h-1z"/><path fill="#ff839e" d="M46 598h1v1h-1z"/><path fill="#ff849e" d="M46 590h1v1h-1z"/><path fill="#ff88a1" d="M267 626h1v1h-1z"/><path fill="#ff8ba4" d="M46 599h1v1h-1z"/><path fill="#ff8ca4" d="M46 589h1v1h-1z"/><path fill="#ff8ea6" d="M270 694h1v1h-1z"/><path fill="#ff8fa7" d="M52 649h1v1h-1z"/><path fill="#ff94ab" d="M46 600h1v1h-1zM48 626h1v1h-1z"/><path fill="#ff95ab" d="M46 588h1v1h-1z"/><path fill="#ff99ae" d="M271 694h1v1h-1z"/><path fill="#ff9cb1" d="M46 601h1v1h-1z"/><path fill="#ff9db2" d="M46 587h1v1h-1zM275 604h1v1h-1z"/><path fill="#ffa0b4" d="M451 671h1v1h-1zM452 694h1v1h-1z"/><path fill="#ffa4b7" d="M46 602h1v1h-1z"/><path fill="#ffa4b8" d="M456 604h1v1h-1z"/><path fill="#ffa5b8" d="M46 586h1v1h-1z"/><path fill="#ffa7ba" d="M266 604h1v1h-1z"/><path fill="#ffa8ba" d="M450 649h1v1h-1z"/><path fill="#ffa8bb" d="M449 626h1v1h-1zM51 671h1v1h-1z"/><path fill="#ffacbd" d="M455 626h1v1h-1z"/><path fill="#ffacbe" d="M46 603h1v1h-1zM453 694h1v1h-1z"/><path fill="#ffadbe" d="M47 604h1v1h-1zM454 649h1v1h-1z"/><path fill="#ffaebf" d="M454 671h1v1h-1z"/><path fill="#ffafc0" d="M448 604h1v1h-1z"/><path fill="#ffb2c2" d="M449 604h1v1h-1z"/><path fill="#ffb4c4" d="M46 604h1v1h-1zM453 671h1v1h-1z"/><path fill="#ffb5c5" d="M455 649h1v1h-1z"/><path fill="#ffb6c5" d="M456 626h1v1h-1z"/><path fill="#ffb9c8" d="M450 626h1v1h-1z"/><path fill="#ffbac8" d="M451 649h1v1h-1z"/><path fill="#ffbac9" d="M267 604h1v1h-1zM271 716h1v1h-1z"/><path fill="#ffbdcb" d="M156 604h1v1h-1zM457 604h1v1h-1zM46 605h1v1h-1z"/><path fill="#ffc1ce" d="M452 671h1v1h-1z"/><path fill="#ffc3d0" d="M270 716h1v1h-1z"/><path fill="#ffc4d1" d="M274 604h1v1h-1z"/><path fill="#ffc5d1" d="M46 606h1v1h-1z"/><path fill="#ffc9d5" d="M272 694h1v1h-1z"/><path fill="#ffcbd6" d="M213 589h1v1h-1z"/><path fill="#ffcdd8" d="M46 607h1v1h-1zM47 626h1v1h-1z"/><path fill="#ffd2dc" d="M46 585h1v1h-1zM51 649h1v1h-1z"/><path fill="#ffd3dc" d="M269 694h1v1h-1z"/><path fill="#ffd5de" d="M46 608h1v1h-1z"/><path fill="#ffd9e1" d="M268 626h1v1h-1z"/><path fill="#ffdee5" d="M46 609h1v1h-1z"/><path fill="#ffe2e8" d="M273 671h1v1h-1z"/><path fill="#ffe3e9" d="M273 626h1v1h-1z"/><path fill="#ffe5eb" d="M213 591h1v1h-1z"/><path fill="#ffe6eb" d="M155 604h1v1h-1zM46 610h1v1h-1z"/><path fill="#ffedf1" d="M268 671h1v1h-1z"/><path fill="#ffeef2" d="M46 611h1v1h-1z"/><path fill="#ffeff2" d="M48 649h1v1h-1z"/><path fill="#fff0f3" d="M55 604h1v1h-1z"/><path fill="#fff3f5" d="M269 649h1v1h-1z"/><path fill="#fff4f6" d="M52 626h1v1h-1z"/><path fill="#fff6f8" d="M46 612h1v1h-1z"/><path fill="#fffdfd" d="M272 649h1v1h-1z"/><path fill="#fffefe" d="M46 613h1v1h-1z"/>
</g>
<defs><clipPath id="glyphmask"><path d="M533 11h3v1h-3zM545 11h3v3h-3zM554 11h3v3h-3zM558 11h2v2h-2zM566 11h2v2h-2zM653 11h7v1h-7zM673 11h3v6h-3zM690 11h3v2h-3zM532 12h4v2h-4zM562 12h2v2h-2zM653 12h9v1h-9zM686 12h2v2h-2zM653 13h3v9h-3zM659 13h4v1h-4zM531 14h6v2h-6zM541 14h7v1h-7zM550 14h7v1h-7zM558 14h7v2h-7zM566 14h2v8h-2zM571 14h5v1h-5zM578 14h7v1h-7zM588 14h5v1h-5zM660 14h3v1h-3zM666 14h5v1h-5zM679 14h4v1h-4zM685 14h8v2h-8zM695 14h5v1h-5zM703 14h7v2h-7zM713 14h5v1h-5zM540 15h8v1h-8zM549 15h8v1h-8zM570 15h7v1h-7zM578 15h8v1h-8zM587 15h7v1h-7zM661 15h3v1h-3zM665 15h7v1h-7zM677 15h7v1h-7zM694 15h7v1h-7zM712 15h7v1h-7zM531 16h2v1h-2zM535 16h2v1h-2zM540 16h3v1h-3zM544 16h4v1h-4zM549 16h3v1h-3zM553 16h4v1h-4zM558 16h2v8h-2zM561 16h3v6h-3zM569 16h3v2h-3zM574 16h3v1h-3zM578 16h3v8h-3zM583 16h3v2h-3zM587 16h2v1h-2zM592 16h2v1h-2zM661 16h7v1h-7zM669 16h3v1h-3zM677 16h3v1h-3zM682 16h3v2h-3zM686 16h2v5h-2zM690 16h3v6h-3zM694 16h3v1h-3zM699 16h3v2h-3zM703 16h3v1h-3zM708 16h6v1h-6zM716 16h3v1h-3zM530 17h3v1h-3zM535 17h3v1h-3zM540 17h2v4h-2zM545 17h3v1h-3zM549 17h2v1h-2zM554 17h3v4h-3zM575 17h2v4h-2zM587 17h3v1h-3zM661 17h6v1h-6zM670 17h6v1h-6zM677 17h2v1h-2zM694 17h2v4h-2zM703 17h2v7h-2zM708 17h7v1h-7zM530 18h8v1h-8zM545 18h6v2h-6zM569 18h2v2h-2zM584 18h2v6h-2zM587 18h6v1h-6zM661 18h15v2h-15zM677 18h8v2h-8zM700 18h2v2h-2zM708 18h3v3h-3zM712 18h6v1h-6zM530 19h9v1h-9zM589 19h5v1h-5zM713 19h6v1h-6zM529 20h3v2h-3zM536 20h3v1h-3zM545 20h3v1h-3zM549 20h2v1h-2zM569 20h3v2h-3zM591 20h3v1h-3zM660 20h3v1h-3zM664 20h3v1h-3zM673 20h3v4h-3zM677 20h2v1h-2zM699 20h3v2h-3zM716 20h3v2h-3zM537 21h2v1h-2zM540 21h3v1h-3zM544 21h4v1h-4zM549 21h3v1h-3zM553 21h4v1h-4zM574 21h3v1h-3zM587 21h2v1h-2zM592 21h2v1h-2zM659 21h4v1h-4zM664 21h4v1h-4zM670 21h2v1h-2zM677 21h3v1h-3zM682 21h3v1h-3zM686 21h3v1h-3zM694 21h3v1h-3zM708 21h6v1h-6zM528 22h3v2h-3zM537 22h11v1h-11zM549 22h8v1h-8zM562 22h6v2h-6zM570 22h7v1h-7zM587 22h7v1h-7zM653 22h9v1h-9zM665 22h7v1h-7zM677 22h8v1h-8zM686 22h7v1h-7zM694 22h7v1h-7zM708 22h11v1h-11zM537 23h3v1h-3zM541 23h7v1h-7zM550 23h7v1h-7zM571 23h5v1h-5zM588 23h5v1h-5zM653 23h8v1h-8zM666 23h5v1h-5zM678 23h6v1h-6zM687 23h6v1h-6zM695 23h5v1h-5zM708 23h3v1h-3zM712 23h6v1h-6zM11 36h4v1h-4zM19 36h5v1h-5zM28 36h5v1h-5zM9 37h7v1h-7zM18 37h7v1h-7zM27 37h7v1h-7zM9 38h3v1h-3zM13 38h3v1h-3zM17 38h4v1h-4zM22 38h3v1h-3zM26 38h3v3h-3zM31 38h3v1h-3zM9 39h2v1h-2zM17 39h3v1h-3zM23 39h2v2h-2zM32 39h2v1h-2zM9 40h6v1h-6zM31 40h3v1h-3zM8 41h8v1h-8zM22 41h3v1h-3zM27 41h7v2h-7zM8 42h4v1h-4zM13 42h3v1h-3zM21 42h3v1h-3zM8 43h3v2h-3zM14 43h3v3h-3zM20 43h4v1h-4zM26 43h3v4h-3zM31 43h3v1h-3zM19 44h4v1h-4zM32 44h2v2h-2zM9 45h2v1h-2zM18 45h3v1h-3zM9 46h3v1h-3zM13 46h3v1h-3zM18 46h2v1h-2zM31 46h3v1h-3zM9 47h7v1h-7zM17 47h8v2h-8zM27 47h7v1h-7zM10 48h5v1h-5zM28 48h5v1h-5zM12 58h1v1h-1zM21 58h1v1h-1zM30 58h1v1h-1zM10 59h6v1h-6zM18 59h6v1h-6zM27 59h6v1h-6zM9 60h7v1h-7zM18 60h7v1h-7zM26 60h8v1h-8zM9 61h3v1h-3zM14 61h2v1h-2zM17 61h3v3h-3zM23 61h2v2h-2zM26 61h3v2h-3zM31 61h3v1h-3zM9 62h2v1h-2zM32 62h2v1h-2zM8 63h8v2h-8zM23 63h3v4h-3zM31 63h3v1h-3zM17 64h2v1h-2zM30 64h4v1h-4zM8 65h3v2h-3zM14 65h6v4h-6zM29 65h4v1h-4zM28 66h4v1h-4zM9 67h2v1h-2zM23 67h2v1h-2zM27 67h4v1h-4zM9 68h3v1h-3zM22 68h3v1h-3zM27 68h3v1h-3zM9 69h7v1h-7zM18 69h7v1h-7zM26 69h8v2h-8zM10 70h6v1h-6zM18 70h6v1h-6zM9 81h7v2h-7zM17 81h8v2h-8zM28 81h5v1h-5zM27 82h7v1h-7zM9 83h2v3h-2zM22 83h3v2h-3zM27 83h3v1h-3zM31 83h3v1h-3zM26 84h3v1h-3zM21 85h3v2h-3zM26 85h7v1h-7zM9 86h6v1h-6zM26 86h8v1h-8zM9 87h7v1h-7zM20 87h3v2h-3zM26 87h3v4h-3zM31 87h3v1h-3zM8 88h3v1h-3zM13 88h4v1h-4zM32 88h2v3h-2zM14 89h3v2h-3zM20 89h2v2h-2zM8 90h3v1h-3zM8 91h4v1h-4zM13 91h3v1h-3zM19 91h3v3h-3zM27 91h3v1h-3zM31 91h3v1h-3zM9 92h7v1h-7zM27 92h7v1h-7zM10 93h5v1h-5zM28 93h5v1h-5zM9 103h7v3h-7zM18 103h7v3h-7zM29 103h3v1h-3zM27 104h6v1h-6zM27 105h7v1h-7zM9 106h2v3h-2zM18 106h2v2h-2zM26 106h3v2h-3zM32 106h2v3h-2zM12 108h2v1h-2zM17 108h6v1h-6zM26 108h2v3h-2zM9 109h7v1h-7zM17 109h8v2h-8zM32 109h3v2h-3zM8 110h8v1h-8zM14 111h3v2h-3zM23 111h5v1h-5zM32 111h2v2h-2zM23 112h6v1h-6zM8 113h3v1h-3zM14 113h6v1h-6zM23 113h2v1h-2zM26 113h3v1h-3zM31 113h3v1h-3zM8 114h8v1h-8zM17 114h8v1h-8zM27 114h7v1h-7zM9 115h6v1h-6zM18 115h6v1h-6zM27 115h6v1h-6zM9 126h7v2h-7zM19 126h5v1h-5zM30 126h3v2h-3zM18 127h7v1h-7zM9 128h2v3h-2zM17 128h3v2h-3zM22 128h3v1h-3zM29 128h4v1h-4zM23 129h2v2h-2zM28 129h5v2h-5zM9 131h6v1h-6zM22 131h3v1h-3zM27 131h3v1h-3zM31 131h2v3h-2zM9 132h7v1h-7zM21 132h3v1h-3zM27 132h2v1h-2zM8 133h3v1h-3zM13 133h4v1h-4zM20 133h3v1h-3zM26 133h3v1h-3zM14 134h3v2h-3zM19 134h3v1h-3zM26 134h9v2h-9zM8 135h3v1h-3zM18 135h3v1h-3zM8 136h4v1h-4zM13 136h3v1h-3zM17 136h3v1h-3zM31 136h2v3h-2zM9 137h7v1h-7zM17 137h8v2h-8zM10 138h5v1h-5zM13 148h2v1h-2zM20 148h3v1h-3zM29 148h3v1h-3zM12 149h3v2h-3zM18 149h6v1h-6zM27 149h7v1h-7zM18 150h7v1h-7zM26 150h4v1h-4zM31 150h3v1h-3zM11 151h4v1h-4zM17 151h3v4h-3zM22 151h3v1h-3zM26 151h3v2h-3zM32 151h2v2h-2zM10 152h5v2h-5zM23 152h2v2h-2zM27 153h7v1h-7zM9 154h3v1h-3zM13 154h2v2h-2zM22 154h4v1h-4zM27 154h6v1h-6zM8 155h3v1h-3zM18 155h7v2h-7zM26 155h8v1h-8zM8 156h9v2h-9zM26 156h3v3h-3zM32 156h2v3h-2zM23 157h2v1h-2zM13 158h2v3h-2zM17 158h3v1h-3zM22 158h3v1h-3zM18 159h7v1h-7zM26 159h8v1h-8zM18 160h6v1h-6zM27 160h6v1h-6zM12 171h3v2h-3zM17 171h8v2h-8zM28 171h5v1h-5zM27 172h7v1h-7zM11 173h4v2h-4zM22 173h3v2h-3zM26 173h3v2h-3zM31 173h3v1h-3zM32 174h2v1h-2zM10 175h5v1h-5zM21 175h3v2h-3zM31 175h3v2h-3zM9 176h3v2h-3zM13 176h2v3h-2zM20 177h3v2h-3zM30 177h3v1h-3zM8 178h3v1h-3zM28 178h4v1h-4zM8 179h9v2h-9zM20 179h2v1h-2zM28 179h3v1h-3zM19 180h3v4h-3zM27 180h3v1h-3zM13 181h2v3h-2zM26 181h3v1h-3zM26 182h8v2h-8zM13 193h2v1h-2zM22 193h2v1h-2zM29 193h3v1h-3zM12 194h3v2h-3zM21 194h3v1h-3zM27 194h7v1h-7zM20 195h4v2h-4zM27 195h3v1h-3zM31 195h3v1h-3zM11 196h4v1h-4zM26 196h3v1h-3zM32 196h2v1h-2zM10 197h5v2h-5zM19 197h5v1h-5zM26 197h6v1h-6zM19 198h2v1h-2zM22 198h2v3h-2zM26 198h8v1h-8zM9 199h3v1h-3zM13 199h2v2h-2zM18 199h3v1h-3zM26 199h4v1h-4zM31 199h3v1h-3zM8 200h3v1h-3zM17 200h3v1h-3zM26 200h3v1h-3zM32 200h2v3h-2zM8 201h21v2h-21zM13 203h2v3h-2zM22 203h2v3h-2zM27 203h3v1h-3zM31 203h3v1h-3zM27 204h7v1h-7zM28 205h5v1h-5zM12 216h3v2h-3zM19 216h5v1h-5zM27 216h6v1h-6zM18 217h7v1h-7zM27 217h7v1h-7zM11 218h4v2h-4zM17 218h3v2h-3zM22 218h3v1h-3zM26 218h3v2h-3zM31 218h3v1h-3zM23 219h2v1h-2zM32 219h2v2h-2zM10 220h5v1h-5zM22 220h3v2h-3zM26 220h2v4h-2zM9 221h3v2h-3zM13 221h2v3h-2zM32 221h3v2h-3zM21 222h3v1h-3zM8 223h3v1h-3zM19 223h4v1h-4zM32 223h2v2h-2zM8 224h9v2h-9zM19 224h3v1h-3zM26 224h3v2h-3zM18 225h3v1h-3zM31 225h3v1h-3zM13 226h2v3h-2zM17 226h8v3h-8zM27 226h7v1h-7zM27 227h6v1h-6zM29 228h3v1h-3zM10 238h5v1h-5zM19 238h4v1h-4zM31 238h2v1h-2zM9 239h7v1h-7zM18 239h6v1h-6zM30 239h3v1h-3zM8 240h4v1h-4zM13 240h3v1h-3zM17 240h4v1h-4zM22 240h3v1h-3zM29 240h4v2h-4zM8 241h3v1h-3zM14 241h2v1h-2zM17 241h3v4h-3zM23 241h2v3h-2zM13 242h3v1h-3zM28 242h5v1h-5zM11 243h5v2h-5zM27 243h3v2h-3zM31 243h2v3h-2zM22 244h4v1h-4zM13 245h3v1h-3zM18 245h7v2h-7zM26 245h3v1h-3zM14 246h3v2h-3zM26 246h9v2h-9zM8 247h3v2h-3zM23 247h2v1h-2zM13 248h7v1h-7zM22 248h3v1h-3zM31 248h2v3h-2zM9 249h7v1h-7zM18 249h6v1h-6zM10 250h5v1h-5zM18 250h5v1h-5zM9 261h7v2h-7zM19 261h5v1h-5zM27 261h6v1h-6zM18 262h7v1h-7zM26 262h8v1h-8zM8 263h3v1h-3zM14 263h2v2h-2zM18 263h3v1h-3zM23 263h2v1h-2zM26 263h3v2h-3zM32 263h2v2h-2zM9 264h2v1h-2zM17 264h3v1h-3zM12 265h4v1h-4zM17 265h7v1h-7zM26 265h4v1h-4zM31 265h3v1h-3zM11 266h4v1h-4zM17 266h8v1h-8zM27 266h6v1h-6zM11 267h5v1h-5zM17 267h3v1h-3zM23 267h2v1h-2zM26 267h8v1h-8zM14 268h6v2h-6zM23 268h6v2h-6zM32 268h2v3h-2zM8 269h3v2h-3zM14 270h3v1h-3zM18 270h2v1h-2zM23 270h2v1h-2zM26 270h3v1h-3zM8 271h8v1h-8zM18 271h7v1h-7zM26 271h8v1h-8zM9 272h7v1h-7zM19 272h6v1h-6zM27 272h7v1h-7zM12 273h1v1h-1zM20 273h3v1h-3zM29 273h2v1h-2zM10 283h5v1h-5zM22 283h2v1h-2zM28 283h5v1h-5zM9 284h7v1h-7zM21 284h3v1h-3zM27 284h7v1h-7zM8 285h4v1h-4zM13 285h3v1h-3zM20 285h4v2h-4zM26 285h4v1h-4zM31 285h3v1h-3zM8 286h3v1h-3zM14 286h2v1h-2zM26 286h3v1h-3zM32 286h2v2h-2zM13 287h3v1h-3zM19 287h5v1h-5zM11 288h5v2h-5zM18 288h3v2h-3zM22 288h2v3h-2zM31 288h3v1h-3zM30 289h3v1h-3zM13 290h7v1h-7zM29 290h4v1h-4zM14 291h12v2h-12zM28 291h3v1h-3zM8 292h3v1h-3zM27 292h3v1h-3zM8 293h4v1h-4zM13 293h4v1h-4zM22 293h2v3h-2zM26 293h3v1h-3zM9 294h7v1h-7zM26 294h8v2h-8zM10 295h5v1h-5zM9 306h7v2h-7zM19 306h4v1h-4zM28 306h5v1h-5zM18 307h5v2h-5zM27 307h7v1h-7zM8 308h3v1h-3zM14 308h2v2h-2zM27 308h2v1h-2zM32 308h2v1h-2zM18 309h1v1h-1zM20 309h3v7h-3zM26 309h3v1h-3zM11 310h5v1h-5zM26 310h7v1h-7zM11 311h4v1h-4zM26 311h8v1h-8zM11 312h5v1h-5zM26 312h3v4h-3zM32 312h2v4h-2zM14 313h3v3h-3zM8 314h3v2h-3zM8 316h8v1h-8zM18 316h8v2h-8zM27 316h7v1h-7zM9 317h7v1h-7zM28 317h5v1h-5zM10 328h5v1h-5zM19 328h5v1h-5zM28 328h5v1h-5zM9 329h7v1h-7zM18 329h7v1h-7zM27 329h7v1h-7zM9 330h3v1h-3zM13 330h3v1h-3zM17 330h4v1h-4zM22 330h3v1h-3zM26 330h4v1h-4zM31 330h3v1h-3zM8 331h3v1h-3zM14 331h2v2h-2zM17 331h3v4h-3zM23 331h2v2h-2zM26 331h3v2h-3zM32 331h2v2h-2zM13 333h3v1h-3zM23 333h5v1h-5zM32 333h3v3h-3zM12 334h4v1h-4zM22 334h6v1h-6zM11 335h4v1h-4zM18 335h7v1h-7zM26 335h2v1h-2zM10 336h4v1h-4zM19 336h6v1h-6zM26 336h3v2h-3zM32 336h2v2h-2zM9 337h4v1h-4zM23 337h2v1h-2zM9 338h3v1h-3zM17 338h3v1h-3zM22 338h3v1h-3zM26 338h4v1h-4zM31 338h3v1h-3zM8 339h9v2h-9zM18 339h6v1h-6zM27 339h6v1h-6zM19 340h4v1h-4zM28 340h4v1h-4zM12 350h1v1h-1zM21 350h1v1h-1zM31 350h2v1h-2zM9 351h7v2h-7zM19 351h6v1h-6zM30 351h3v1h-3zM18 352h7v1h-7zM29 352h4v2h-4zM8 353h3v1h-3zM14 353h2v2h-2zM18 353h2v1h-2zM23 353h2v1h-2zM9 354h2v1h-2zM17 354h3v1h-3zM28 354h5v1h-5zM13 355h3v2h-3zM17 355h8v2h-8zM28 355h2v1h-2zM31 355h2v3h-2zM27 356h3v1h-3zM11 357h4v1h-4zM17 357h3v3h-3zM23 357h2v1h-2zM26 357h3v1h-3zM10 358h4v1h-4zM23 358h12v2h-12zM9 359h4v1h-4zM9 360h3v1h-3zM18 360h2v1h-2zM23 360h2v1h-2zM26 360h9v1h-9zM8 361h9v2h-9zM18 361h7v1h-7zM31 361h2v2h-2zM19 362h5v1h-5zM10 373h5v1h-5zM19 373h5v1h-5zM28 373h5v1h-5zM9 374h7v1h-7zM18 374h7v1h-7zM27 374h7v1h-7zM9 375h3v1h-3zM13 375h3v1h-3zM17 375h3v2h-3zM22 375h3v1h-3zM26 375h3v3h-3zM31 375h3v1h-3zM8 376h3v1h-3zM14 376h2v2h-2zM23 376h2v1h-2zM32 376h2v1h-2zM22 377h3v1h-3zM31 377h3v1h-3zM13 378h3v1h-3zM20 378h5v2h-5zM27 378h7v2h-7zM12 379h3v1h-3zM11 380h4v1h-4zM22 380h3v1h-3zM26 380h3v1h-3zM31 380h3v1h-3zM10 381h4v1h-4zM18 381h1v1h-1zM23 381h6v2h-6zM32 381h2v2h-2zM9 382h3v2h-3zM17 382h3v1h-3zM17 383h4v1h-4zM22 383h3v1h-3zM26 383h3v1h-3zM31 383h3v1h-3zM8 384h9v2h-9zM18 384h7v1h-7zM27 384h7v1h-7zM19 385h5v1h-5zM28 385h5v1h-5zM11 395h3v1h-3zM20 395h3v1h-3zM29 395h2v1h-2zM9 396h7v2h-7zM19 396h4v1h-4zM27 396h6v1h-6zM18 397h5v2h-5zM26 397h8v1h-8zM8 398h3v1h-3zM14 398h2v2h-2zM26 398h3v1h-3zM32 398h2v2h-2zM9 399h2v1h-2zM18 399h1v1h-1zM20 399h3v7h-3zM27 399h2v1h-2zM13 400h3v1h-3zM31 400h3v1h-3zM12 401h4v1h-4zM30 401h4v1h-4zM11 402h4v1h-4zM29 402h4v1h-4zM10 403h4v1h-4zM28 403h4v1h-4zM9 404h4v1h-4zM27 404h4v1h-4zM9 405h3v1h-3zM27 405h3v1h-3zM8 406h9v2h-9zM18 406h16v2h-16zM11 418h3v1h-3zM19 418h5v1h-5zM28 418h5v1h-5zM9 419h5v2h-5zM18 419h7v1h-7zM27 419h7v1h-7zM17 420h3v3h-3zM22 420h3v1h-3zM27 420h3v1h-3zM31 420h3v1h-3zM9 421h2v1h-2zM12 421h2v8h-2zM23 421h2v1h-2zM26 421h3v1h-3zM22 422h3v1h-3zM26 422h7v1h-7zM18 423h7v2h-7zM26 423h8v1h-8zM26 424h3v2h-3zM31 424h3v1h-3zM17 425h3v3h-3zM23 425h2v1h-2zM32 425h2v3h-2zM23 426h6v2h-6zM17 428h4v1h-4zM22 428h3v1h-3zM27 428h3v1h-3zM31 428h3v1h-3zM9 429h8v2h-8zM18 429h7v1h-7zM27 429h7v1h-7zM19 430h5v1h-5zM29 430h3v1h-3zM11 440h3v1h-3zM20 440h3v1h-3zM29 440h3v1h-3zM10 441h4v1h-4zM19 441h6v1h-6zM27 441h6v1h-6zM9 442h5v2h-5zM18 442h7v1h-7zM27 442h7v1h-7zM18 443h2v1h-2zM23 443h2v1h-2zM26 443h3v2h-3zM32 443h2v3h-2zM9 444h1v1h-1zM12 444h2v7h-2zM17 444h6v1h-6zM17 445h8v2h-8zM26 445h2v3h-2zM32 446h3v2h-3zM17 447h3v3h-3zM23 447h2v1h-2zM23 448h5v1h-5zM32 448h2v2h-2zM23 449h6v1h-6zM18 450h3v1h-3zM22 450h3v1h-3zM26 450h3v1h-3zM31 450h3v1h-3zM9 451h8v2h-8zM18 451h7v1h-7zM27 451h7v1h-7zM19 452h5v1h-5zM28 452h5v1h-5zM11 463h3v1h-3zM18 463h6v1h-6zM30 463h3v2h-3zM9 464h5v2h-5zM18 464h7v1h-7zM17 465h3v2h-3zM22 465h3v1h-3zM29 465h4v1h-4zM9 466h2v1h-2zM12 466h2v8h-2zM23 466h2v1h-2zM28 466h5v2h-5zM22 467h3v1h-3zM20 468h4v1h-4zM27 468h3v1h-3zM31 468h2v3h-2zM20 469h5v1h-5zM27 469h2v1h-2zM22 470h3v1h-3zM26 470h3v1h-3zM17 471h2v1h-2zM23 471h12v2h-12zM17 472h3v1h-3zM17 473h8v1h-8zM31 473h2v3h-2zM9 474h8v2h-8zM18 474h7v1h-7zM19 475h4v1h-4zM11 485h3v1h-3zM19 485h4v1h-4zM28 485h4v1h-4zM10 486h4v1h-4zM18 486h7v1h-7zM27 486h7v1h-7zM9 487h5v1h-5zM18 487h3v1h-3zM22 487h3v1h-3zM26 487h4v1h-4zM31 487h3v1h-3zM9 488h2v1h-2zM12 488h2v8h-2zM17 488h3v3h-3zM23 488h2v1h-2zM26 488h3v1h-3zM32 488h2v1h-2zM9 489h1v1h-1zM23 489h6v1h-6zM31 489h3v1h-3zM23 490h3v2h-3zM27 490h7v2h-7zM17 491h2v1h-2zM17 492h3v3h-3zM23 492h7v1h-7zM31 492h3v1h-3zM23 493h6v1h-6zM32 493h2v3h-2zM23 494h2v1h-2zM26 494h3v2h-3zM18 495h2v1h-2zM22 495h3v1h-3zM9 496h8v2h-8zM18 496h7v1h-7zM26 496h8v1h-8zM19 497h5v1h-5zM27 497h6v1h-6zM18 508h6v1h-6zM27 508h6v1h-6zM18 509h7v1h-7zM27 509h7v1h-7zM17 510h3v2h-3zM23 510h2v2h-2zM26 510h3v2h-3zM31 510h3v1h-3zM32 511h2v1h-2zM18 512h3v1h-3zM22 512h3v1h-3zM31 512h3v2h-3zM18 513h7v2h-7zM29 514h4v1h-4zM17 515h3v3h-3zM23 515h2v1h-2zM28 515h4v1h-4zM23 516h3v2h-3zM27 516h4v1h-4zM27 517h3v1h-3zM17 518h4v1h-4zM22 518h3v1h-3zM26 518h8v3h-8zM18 519h7v1h-7zM20 520h3v1h-3zM18 530h7v2h-7zM29 530h4v1h-4zM27 531h7v1h-7zM18 532h2v3h-2zM27 532h3v1h-3zM31 532h3v1h-3zM26 533h3v1h-3zM32 533h1v1h-1zM26 534h7v1h-7zM17 535h7v1h-7zM26 535h8v1h-8zM17 536h8v1h-8zM26 536h4v1h-4zM31 536h3v1h-3zM17 537h4v1h-4zM22 537h3v1h-3zM26 537h3v1h-3zM32 537h2v3h-2zM23 538h6v2h-6zM18 539h1v1h-1zM17 540h3v1h-3zM22 540h3v1h-3zM27 540h3v1h-3zM31 540h3v1h-3zM17 541h8v1h-8zM27 541h7v1h-7zM18 542h6v1h-6zM28 542h5v1h-5zM18 553h6v1h-6zM27 553h6v1h-6zM18 554h7v1h-7zM27 554h7v1h-7zM17 555h3v1h-3zM23 555h2v2h-2zM26 555h3v2h-3zM31 555h3v1h-3zM18 556h2v1h-2zM32 556h2v2h-2zM21 557h4v1h-4zM26 557h2v4h-2zM20 558h4v1h-4zM32 558h3v2h-3zM20 559h5v1h-5zM23 560h2v1h-2zM32 560h2v2h-2zM17 561h3v2h-3zM23 561h6v2h-6zM31 562h3v1h-3zM17 563h8v1h-8zM27 563h7v1h-7zM18 564h7v1h-7zM27 564h6v1h-6zM21 565h1v1h-1zM29 565h2v1h-2zM30 575h3v2h-3zM29 577h4v2h-4zM28 579h5v1h-5zM27 580h3v2h-3zM31 580h2v3h-2zM26 582h3v1h-3zM26 583h9v2h-9zM31 585h2v3h-2zM18 598h6v1h-6zM27 598h6v1h-6zM17 599h8v1h-8zM26 599h7v1h-7zM17 600h3v1h-3zM22 600h3v3h-3zM26 600h2v2h-2zM31 600h3v2h-3zM17 601h2v1h-2zM31 602h2v1h-2zM21 603h3v1h-3zM30 603h3v1h-3zM11 604h5v3h-5zM20 604h3v1h-3zM29 604h3v1h-3zM19 605h3v1h-3zM28 605h3v1h-3zM18 606h3v1h-3zM27 606h3v1h-3zM17 607h3v1h-3zM26 607h3v1h-3zM17 608h8v2h-8zM26 608h8v2h-8zM21 620h3v1h-3zM27 620h5v1h-5zM20 621h4v2h-4zM26 621h7v1h-7zM26 622h3v1h-3zM31 622h3v3h-3zM19 623h5v1h-5zM26 623h2v1h-2zM18 624h6v2h-6zM26 624h3v1h-3zM26 625h7v2h-7zM17 626h3v1h-3zM21 626h3v2h-3zM11 627h5v1h-5zM17 627h2v1h-2zM26 627h3v1h-3zM31 627h3v4h-3zM11 628h17v1h-17zM16 629h12v1h-12zM21 630h3v3h-3zM26 630h3v1h-3zM26 631h7v1h-7zM27 632h5v1h-5zM17 642h8v3h-8zM30 642h3v1h-3zM29 643h4v2h-4zM22 645h2v1h-2zM28 645h5v2h-5zM21 646h3v1h-3zM20 647h3v2h-3zM27 647h6v1h-6zM26 648h3v2h-3zM30 648h3v2h-3zM11 649h5v3h-5zM20 649h2v1h-2zM19 650h3v2h-3zM25 650h9v3h-9zM19 652h2v3h-2zM30 653h3v2h-3zM10 665h3v1h-3zM18 665h5v1h-5zM27 665h5v1h-5zM9 666h4v1h-4zM17 666h7v1h-7zM26 666h7v1h-7zM8 667h5v1h-5zM17 667h3v1h-3zM22 667h3v2h-3zM26 667h3v1h-3zM31 667h2v1h-2zM8 668h2v1h-2zM11 668h2v8h-2zM17 668h2v2h-2zM26 668h2v1h-2zM31 668h3v3h-3zM22 669h6v1h-6zM16 670h3v2h-3zM23 670h5v3h-5zM32 671h2v1h-2zM2 672h5v2h-5zM17 672h2v3h-2zM31 672h3v3h-3zM22 673h6v1h-6zM22 674h3v1h-3zM26 674h2v1h-2zM17 675h3v1h-3zM21 675h3v1h-3zM26 675h3v1h-3zM30 675h3v1h-3zM8 676h8v2h-8zM18 676h6v1h-6zM26 676h7v1h-7zM19 677h4v1h-4zM28 677h4v1h-4zM11 687h2v1h-2zM19 687h3v1h-3zM29 687h2v1h-2zM10 688h3v1h-3zM18 688h6v1h-6zM27 688h6v1h-6zM8 689h5v2h-5zM17 689h8v1h-8zM26 689h8v1h-8zM17 690h2v1h-2zM22 690h3v3h-3zM26 690h3v1h-3zM31 690h3v1h-3zM8 691h2v1h-2zM11 691h2v7h-2zM18 691h1v1h-1zM26 691h2v1h-2zM29 691h2v1h-2zM26 692h7v1h-7zM21 693h3v1h-3zM26 693h8v1h-8zM2 694h5v3h-5zM20 694h3v1h-3zM26 694h2v3h-2zM31 694h3v4h-3zM19 695h3v1h-3zM18 696h3v1h-3zM17 697h3v1h-3zM26 697h3v1h-3zM8 698h8v2h-8zM17 698h8v2h-8zM26 698h7v1h-7zM27 699h6v1h-6zM10 710h3v1h-3zM17 710h7v2h-7zM27 710h5v1h-5zM9 711h4v1h-4zM26 711h7v1h-7zM8 712h5v1h-5zM17 712h2v3h-2zM26 712h3v1h-3zM31 712h3v2h-3zM8 713h2v1h-2zM11 713h2v8h-2zM26 713h2v1h-2zM31 714h2v1h-2zM17 715h7v1h-7zM30 715h3v1h-3zM17 716h8v1h-8zM29 716h4v1h-4zM2 717h5v2h-5zM17 717h2v1h-2zM22 717h3v3h-3zM28 717h4v1h-4zM27 718h4v1h-4zM16 719h3v1h-3zM26 719h4v1h-4zM17 720h3v1h-3zM21 720h4v1h-4zM26 720h3v1h-3zM8 721h8v2h-8zM17 721h7v1h-7zM26 721h8v2h-8zM19 722h4v1h-4zM12 730h3v3h-3zM21 730h2v1h-2zM49 730h2v1h-2zM58 730h2v1h-2zM67 730h2v1h-2zM76 730h2v1h-2zM102 730h3v1h-3zM134 730h2v1h-2zM143 730h2v1h-2zM152 730h2v1h-2zM161 730h3v1h-3zM183 730h5v3h-5zM214 730h2v1h-2zM223 730h2v1h-2zM232 730h2v1h-2zM241 730h2v1h-2zM261 730h3v3h-3zM269 730h3v3h-3zM298 730h2v1h-2zM307 730h2v1h-2zM316 730h2v1h-2zM325 730h2v1h-2zM351 730h3v1h-3zM383 730h2v1h-2zM392 730h2v1h-2zM401 730h2v1h-2zM410 730h2v1h-2zM432 730h5v3h-5zM463 730h2v1h-2zM472 730h2v1h-2zM481 730h2v1h-2zM490 730h2v1h-2zM514 730h3v1h-3zM523 730h3v3h-3zM552 730h2v1h-2zM561 730h2v1h-2zM570 730h1v1h-1zM578 730h2v1h-2zM600 730h3v1h-3zM632 730h2v1h-2zM641 730h2v1h-2zM650 730h2v1h-2zM659 730h2v1h-2zM686 730h5v3h-5zM717 730h2v1h-2zM726 730h2v1h-2zM735 730h2v1h-2zM745 730h3v2h-3zM763 730h3v1h-3zM772 730h3v2h-3zM801 730h2v1h-2zM809 730h3v1h-3zM819 730h1v1h-1zM829 730h2v1h-2zM849 730h2v1h-2zM881 730h2v1h-2zM890 730h2v1h-2zM899 730h2v1h-2zM909 730h3v2h-3zM935 730h5v3h-5zM966 730h2v1h-2zM975 730h2v1h-2zM984 730h2v1h-2zM990 730h7v3h-7zM1012 730h3v1h-3zM1021 730h3v2h-3zM1050 730h2v1h-2zM1058 730h3v1h-3zM1068 730h1v1h-1zM1074 730h7v3h-7zM1103 730h2v1h-2zM1135 730h2v1h-2zM1144 730h2v1h-2zM1153 730h2v1h-2zM1159 730h7v3h-7zM20 731h3v2h-3zM47 731h6v1h-6zM56 731h6v1h-6zM65 731h6v1h-6zM75 731h3v1h-3zM100 731h7v1h-7zM132 731h7v2h-7zM141 731h6v1h-6zM150 731h6v1h-6zM160 731h4v1h-4zM212 731h7v2h-7zM221 731h6v1h-6zM230 731h6v1h-6zM239 731h6v1h-6zM296 731h6v1h-6zM305 731h6v1h-6zM314 731h6v1h-6zM323 731h6v1h-6zM349 731h7v1h-7zM381 731h6v1h-6zM390 731h6v1h-6zM399 731h6v1h-6zM408 731h6v1h-6zM461 731h7v2h-7zM470 731h6v1h-6zM479 731h6v1h-6zM488 731h6v1h-6zM514 731h4v3h-4zM550 731h6v1h-6zM559 731h6v1h-6zM567 731h7v2h-7zM576 731h7v2h-7zM597 731h8v1h-8zM630 731h6v1h-6zM639 731h6v1h-6zM648 731h6v1h-6zM657 731h6v1h-6zM715 731h6v1h-6zM724 731h6v1h-6zM733 731h6v1h-6zM763 731h4v3h-4zM799 731h6v1h-6zM808 731h6v1h-6zM816 731h7v2h-7zM828 731h3v2h-3zM846 731h8v1h-8zM879 731h6v1h-6zM888 731h6v1h-6zM897 731h6v1h-6zM964 731h6v1h-6zM973 731h6v1h-6zM982 731h6v1h-6zM1012 731h4v3h-4zM1048 731h6v1h-6zM1056 731h7v2h-7zM1065 731h7v2h-7zM1100 731h8v2h-8zM1133 731h6v1h-6zM1142 731h6v1h-6zM1151 731h6v1h-6zM46 732h8v1h-8zM55 732h8v1h-8zM64 732h8v1h-8zM73 732h5v2h-5zM99 732h9v1h-9zM141 732h7v1h-7zM149 732h8v1h-8zM159 732h5v2h-5zM221 732h7v1h-7zM229 732h8v1h-8zM238 732h8v1h-8zM295 732h8v1h-8zM304 732h8v1h-8zM313 732h8v1h-8zM322 732h7v1h-7zM348 732h9v1h-9zM381 732h7v1h-7zM390 732h7v1h-7zM398 732h8v1h-8zM407 732h8v1h-8zM470 732h7v1h-7zM478 732h8v1h-8zM487 732h8v1h-8zM549 732h7v1h-7zM558 732h7v1h-7zM597 732h9v1h-9zM629 732h8v1h-8zM638 732h8v1h-8zM647 732h8v1h-8zM656 732h8v1h-8zM714 732h8v1h-8zM723 732h8v1h-8zM732 732h8v1h-8zM744 732h4v1h-4zM771 732h4v3h-4zM798 732h7v1h-7zM807 732h7v1h-7zM846 732h9v1h-9zM878 732h8v1h-8zM887 732h8v1h-8zM896 732h8v1h-8zM908 732h4v1h-4zM963 732h8v1h-8zM972 732h8v1h-8zM981 732h8v1h-8zM1020 732h4v3h-4zM1047 732h7v1h-7zM1132 732h8v1h-8zM1141 732h7v1h-7zM1150 732h7v1h-7zM12 733h4v3h-4zM19 733h4v3h-4zM28 733h2v1h-2zM33 733h2v1h-2zM39 733h3v2h-3zM46 733h3v1h-3zM51 733h3v3h-3zM55 733h3v1h-3zM60 733h3v1h-3zM64 733h3v1h-3zM69 733h3v3h-3zM99 733h2v1h-2zM105 733h3v1h-3zM112 733h2v1h-2zM118 733h2v1h-2zM121 733h3v1h-3zM131 733h3v1h-3zM137 733h2v2h-2zM140 733h3v2h-3zM145 733h3v1h-3zM149 733h3v1h-3zM154 733h3v1h-3zM186 733h2v6h-2zM192 733h2v1h-2zM198 733h2v1h-2zM202 733h2v1h-2zM211 733h3v1h-3zM217 733h2v2h-2zM220 733h3v2h-3zM226 733h2v2h-2zM229 733h3v1h-3zM234 733h3v1h-3zM238 733h3v1h-3zM243 733h3v1h-3zM261 733h4v3h-4zM268 733h4v3h-4zM276 733h3v1h-3zM282 733h2v1h-2zM288 733h3v1h-3zM295 733h3v1h-3zM300 733h3v3h-3zM304 733h3v1h-3zM309 733h3v2h-3zM313 733h2v2h-2zM318 733h3v3h-3zM322 733h2v2h-2zM327 733h3v2h-3zM348 733h2v1h-2zM354 733h3v1h-3zM361 733h2v1h-2zM367 733h2v1h-2zM370 733h3v1h-3zM380 733h3v1h-3zM386 733h2v2h-2zM389 733h3v2h-3zM394 733h3v1h-3zM398 733h3v1h-3zM403 733h3v1h-3zM407 733h3v1h-3zM412 733h3v3h-3zM434 733h3v8h-3zM441 733h2v1h-2zM447 733h2v1h-2zM451 733h2v1h-2zM460 733h3v1h-3zM466 733h2v2h-2zM469 733h3v2h-3zM474 733h3v1h-3zM478 733h3v1h-3zM483 733h3v1h-3zM487 733h3v1h-3zM492 733h3v2h-3zM522 733h4v2h-4zM530 733h2v1h-2zM535 733h3v2h-3zM542 733h2v1h-2zM549 733h2v2h-2zM554 733h3v1h-3zM558 733h2v1h-2zM563 733h6v1h-6zM572 733h2v2h-2zM575 733h3v1h-3zM581 733h2v2h-2zM597 733h2v1h-2zM603 733h3v1h-3zM610 733h2v1h-2zM616 733h2v1h-2zM619 733h3v1h-3zM629 733h3v1h-3zM635 733h2v2h-2zM638 733h3v2h-3zM643 733h3v1h-3zM647 733h3v1h-3zM652 733h3v3h-3zM656 733h2v1h-2zM661 733h3v2h-3zM688 733h3v8h-3zM695 733h2v1h-2zM701 733h2v1h-2zM704 733h2v1h-2zM714 733h3v1h-3zM719 733h3v1h-3zM723 733h3v1h-3zM728 733h3v1h-3zM732 733h3v1h-3zM737 733h3v3h-3zM743 733h5v2h-5zM779 733h2v1h-2zM784 733h3v2h-3zM791 733h2v1h-2zM798 733h2v2h-2zM803 733h3v1h-3zM807 733h2v1h-2zM812 733h6v1h-6zM821 733h2v2h-2zM827 733h4v1h-4zM846 733h2v2h-2zM852 733h3v1h-3zM859 733h2v1h-2zM865 733h2v1h-2zM868 733h3v1h-3zM878 733h3v1h-3zM883 733h3v1h-3zM887 733h3v1h-3zM892 733h3v1h-3zM896 733h3v1h-3zM901 733h3v3h-3zM907 733h5v2h-5zM937 733h3v8h-3zM944 733h2v1h-2zM950 733h2v1h-2zM953 733h2v1h-2zM963 733h3v1h-3zM968 733h3v3h-3zM972 733h3v1h-3zM977 733h3v1h-3zM981 733h3v1h-3zM986 733h3v3h-3zM990 733h2v3h-2zM1028 733h2v1h-2zM1033 733h3v2h-3zM1040 733h2v1h-2zM1047 733h2v2h-2zM1052 733h3v1h-3zM1056 733h2v1h-2zM1061 733h6v1h-6zM1070 733h2v2h-2zM1074 733h2v2h-2zM1099 733h3v2h-3zM1106 733h3v1h-3zM1112 733h3v1h-3zM1119 733h2v1h-2zM1122 733h2v1h-2zM1132 733h3v1h-3zM1137 733h3v3h-3zM1141 733h3v1h-3zM1146 733h3v2h-3zM1150 733h2v2h-2zM1155 733h3v2h-3zM1159 733h2v3h-2zM25 734h7v2h-7zM33 734h3v2h-3zM47 734h1v1h-1zM55 734h2v6h-2zM61 734h2v5h-2zM64 734h2v1h-2zM73 734h2v1h-2zM76 734h2v7h-2zM99 734h3v1h-3zM110 734h6v1h-6zM118 734h7v1h-7zM132 734h2v1h-2zM146 734h2v2h-2zM150 734h1v1h-1zM155 734h2v1h-2zM159 734h1v1h-1zM161 734h3v7h-3zM190 734h6v1h-6zM198 734h7v1h-7zM212 734h2v1h-2zM230 734h2v1h-2zM235 734h2v1h-2zM239 734h1v1h-1zM244 734h2v1h-2zM274 734h7v2h-7zM282 734h3v2h-3zM288 734h2v1h-2zM296 734h1v1h-1zM304 734h2v6h-2zM348 734h3v1h-3zM359 734h6v1h-6zM367 734h7v1h-7zM381 734h2v1h-2zM395 734h2v2h-2zM399 734h1v1h-1zM404 734h2v1h-2zM408 734h1v1h-1zM439 734h6v1h-6zM447 734h7v1h-7zM461 734h2v1h-2zM475 734h2v2h-2zM479 734h1v1h-1zM484 734h2v1h-2zM514 734h5v3h-5zM528 734h6v1h-6zM541 734h3v2h-3zM554 734h6v1h-6zM563 734h3v7h-3zM567 734h2v1h-2zM597 734h3v1h-3zM608 734h6v1h-6zM616 734h7v1h-7zM630 734h2v1h-2zM644 734h2v6h-2zM648 734h1v1h-1zM692 734h7v2h-7zM701 734h7v1h-7zM715 734h1v1h-1zM720 734h2v1h-2zM723 734h2v6h-2zM729 734h2v5h-2zM732 734h2v1h-2zM763 734h5v3h-5zM777 734h6v1h-6zM790 734h3v2h-3zM803 734h6v1h-6zM812 734h3v6h-3zM816 734h2v1h-2zM826 734h5v2h-5zM857 734h6v1h-6zM865 734h7v1h-7zM879 734h2v1h-2zM884 734h2v1h-2zM887 734h2v5h-2zM893 734h2v6h-2zM897 734h1v1h-1zM941 734h7v2h-7zM950 734h7v2h-7zM964 734h1v1h-1zM972 734h2v6h-2zM978 734h2v5h-2zM981 734h2v1h-2zM1012 734h5v3h-5zM1026 734h6v1h-6zM1039 734h3v2h-3zM1052 734h6v1h-6zM1061 734h3v6h-3zM1065 734h2v1h-2zM1110 734h7v2h-7zM1119 734h7v1h-7zM1132 734h2v1h-2zM1141 734h2v6h-2zM38 735h3v2h-3zM99 735h5v1h-5zM109 735h8v1h-8zM118 735h4v1h-4zM123 735h3v2h-3zM136 735h3v1h-3zM140 735h2v4h-2zM154 735h3v1h-3zM189 735h8v1h-8zM198 735h4v1h-4zM203 735h3v2h-3zM216 735h3v1h-3zM220 735h2v3h-2zM226 735h3v3h-3zM234 735h3v1h-3zM243 735h3v1h-3zM287 735h3v2h-3zM310 735h2v4h-2zM327 735h2v1h-2zM348 735h5v1h-5zM358 735h8v1h-8zM367 735h8v1h-8zM385 735h3v1h-3zM389 735h2v4h-2zM403 735h3v1h-3zM438 735h8v1h-8zM447 735h4v1h-4zM452 735h3v8h-3zM465 735h3v1h-3zM469 735h2v4h-2zM483 735h3v1h-3zM489 735h6v1h-6zM521 735h5v2h-5zM528 735h7v3h-7zM536 735h3v2h-3zM554 735h2v1h-2zM557 735h3v4h-3zM571 735h3v2h-3zM578 735h5v1h-5zM597 735h5v1h-5zM607 735h8v1h-8zM616 735h8v1h-8zM634 735h3v1h-3zM638 735h2v4h-2zM658 735h6v1h-6zM701 735h8v1h-8zM719 735h3v1h-3zM742 735h6v1h-6zM770 735h5v2h-5zM776 735h8v1h-8zM785 735h3v2h-3zM803 735h2v1h-2zM806 735h3v5h-3zM820 735h3v1h-3zM846 735h5v1h-5zM856 735h8v1h-8zM865 735h8v1h-8zM883 735h3v1h-3zM906 735h6v1h-6zM993 735h2v1h-2zM1019 735h5v2h-5zM1025 735h8v1h-8zM1034 735h3v2h-3zM1052 735h2v1h-2zM1055 735h3v5h-3zM1069 735h3v1h-3zM1073 735h3v1h-3zM1077 735h1v1h-1zM1100 735h5v1h-5zM1119 735h8v1h-8zM1147 735h2v4h-2zM1155 735h2v1h-2zM1162 735h2v1h-2zM12 736h5v1h-5zM18 736h5v2h-5zM26 736h1v1h-1zM28 736h4v1h-4zM34 736h2v1h-2zM50 736h3v1h-3zM68 736h3v1h-3zM100 736h7v1h-7zM109 736h3v1h-3zM114 736h3v1h-3zM118 736h3v5h-3zM135 736h4v1h-4zM146 736h3v2h-3zM153 736h3v1h-3zM190 736h7v2h-7zM198 736h3v5h-3zM215 736h4v1h-4zM233 736h4v1h-4zM242 736h3v1h-3zM261 736h5v2h-5zM267 736h5v2h-5zM275 736h6v1h-6zM283 736h2v1h-2zM299 736h3v1h-3zM317 736h3v1h-3zM326 736h3v1h-3zM348 736h8v1h-8zM358 736h3v1h-3zM363 736h3v1h-3zM367 736h3v5h-3zM372 736h3v1h-3zM384 736h4v1h-4zM395 736h3v1h-3zM402 736h3v1h-3zM411 736h3v1h-3zM439 736h7v2h-7zM447 736h3v5h-3zM464 736h4v1h-4zM475 736h3v2h-3zM482 736h3v1h-3zM489 736h5v1h-5zM541 736h2v2h-2zM553 736h3v1h-3zM578 736h4v1h-4zM597 736h8v1h-8zM607 736h3v1h-3zM612 736h3v1h-3zM616 736h3v2h-3zM621 736h3v1h-3zM633 736h4v1h-4zM651 736h3v1h-3zM658 736h5v1h-5zM693 736h1v1h-1zM695 736h5v1h-5zM701 736h3v1h-3zM706 736h3v7h-3zM718 736h3v1h-3zM736 736h3v1h-3zM741 736h3v2h-3zM745 736h3v2h-3zM777 736h7v2h-7zM790 736h2v1h-2zM802 736h3v1h-3zM819 736h4v1h-4zM825 736h3v1h-3zM829 736h2v2h-2zM846 736h8v1h-8zM856 736h3v1h-3zM861 736h3v1h-3zM865 736h3v1h-3zM870 736h3v1h-3zM882 736h4v1h-4zM900 736h3v1h-3zM906 736h2v1h-2zM909 736h3v2h-3zM942 736h1v1h-1zM944 736h4v1h-4zM950 736h3v1h-3zM955 736h3v7h-3zM967 736h3v1h-3zM985 736h3v1h-3zM990 736h7v1h-7zM1026 736h7v2h-7zM1039 736h2v1h-2zM1051 736h3v1h-3zM1068 736h4v1h-4zM1073 736h8v2h-8zM1100 736h8v1h-8zM1110 736h2v1h-2zM1115 736h3v1h-3zM1119 736h2v4h-2zM1124 736h3v5h-3zM1136 736h3v1h-3zM1154 736h3v1h-3zM1159 736h7v1h-7zM12 737h2v6h-2zM15 737h2v1h-2zM25 737h7v1h-7zM34 737h3v1h-3zM38 737h2v1h-2zM49 737h4v1h-4zM67 737h3v1h-3zM102 737h6v1h-6zM109 737h8v3h-8zM124 737h2v3h-2zM134 737h4v1h-4zM152 737h4v1h-4zM204 737h2v6h-2zM214 737h4v1h-4zM232 737h4v1h-4zM241 737h4v1h-4zM274 737h7v1h-7zM283 737h3v1h-3zM287 737h2v1h-2zM298 737h4v1h-4zM316 737h3v1h-3zM325 737h3v1h-3zM350 737h7v1h-7zM358 737h8v3h-8zM373 737h2v3h-2zM383 737h4v1h-4zM395 737h2v3h-2zM401 737h4v1h-4zM410 737h4v1h-4zM463 737h4v1h-4zM481 737h4v1h-4zM489 737h6v1h-6zM514 737h6v1h-6zM521 737h2v1h-2zM524 737h2v6h-2zM537 737h2v1h-2zM552 737h3v1h-3zM569 737h4v1h-4zM578 737h5v1h-5zM599 737h7v1h-7zM607 737h8v3h-8zM622 737h2v3h-2zM632 737h4v1h-4zM650 737h4v1h-4zM658 737h6v1h-6zM692 737h8v1h-8zM701 737h2v4h-2zM717 737h4v1h-4zM735 737h3v1h-3zM763 737h6v1h-6zM770 737h2v1h-2zM773 737h2v6h-2zM786 737h2v1h-2zM789 737h3v1h-3zM801 737h3v1h-3zM818 737h4v1h-4zM824 737h3v1h-3zM848 737h7v1h-7zM856 737h8v3h-8zM865 737h2v3h-2zM871 737h2v3h-2zM881 737h4v1h-4zM899 737h4v1h-4zM905 737h3v1h-3zM941 737h7v1h-7zM950 737h2v4h-2zM966 737h4v1h-4zM984 737h3v1h-3zM990 737h8v1h-8zM1012 737h6v1h-6zM1019 737h2v1h-2zM1022 737h2v6h-2zM1035 737h2v1h-2zM1038 737h3v1h-3zM1050 737h3v1h-3zM1067 737h4v1h-4zM1102 737h16v1h-16zM1135 737h4v1h-4zM1153 737h3v1h-3zM1159 737h8v1h-8zM15 738h5v2h-5zM21 738h2v5h-2zM25 738h3v1h-3zM30 738h2v2h-2zM34 738h6v1h-6zM48 738h4v1h-4zM66 738h3v1h-3zM105 738h3v1h-3zM133 738h4v1h-4zM146 738h2v2h-2zM151 738h4v1h-4zM189 738h4v1h-4zM194 738h3v3h-3zM213 738h4v1h-4zM220 738h3v3h-3zM226 738h2v2h-2zM231 738h4v1h-4zM240 738h4v1h-4zM261 738h2v5h-2zM264 738h2v1h-2zM267 738h2v1h-2zM270 738h2v5h-2zM274 738h3v1h-3zM279 738h2v2h-2zM283 738h6v1h-6zM297 738h4v1h-4zM315 738h3v1h-3zM324 738h3v1h-3zM354 738h3v1h-3zM382 738h4v1h-4zM400 738h4v1h-4zM409 738h4v1h-4zM438 738h4v1h-4zM443 738h3v3h-3zM462 738h4v1h-4zM475 738h2v2h-2zM480 738h4v1h-4zM492 738h3v1h-3zM514 738h3v5h-3zM518 738h5v2h-5zM527 738h4v1h-4zM533 738h2v1h-2zM537 738h6v1h-6zM551 738h3v1h-3zM568 738h4v1h-4zM581 738h3v3h-3zM603 738h3v1h-3zM616 738h2v1h-2zM631 738h4v1h-4zM649 738h4v1h-4zM661 738h3v1h-3zM692 738h3v1h-3zM697 738h3v2h-3zM716 738h4v1h-4zM734 738h3v1h-3zM740 738h9v3h-9zM763 738h3v5h-3zM767 738h5v2h-5zM776 738h4v1h-4zM782 738h2v1h-2zM786 738h6v1h-6zM800 738h3v1h-3zM817 738h4v1h-4zM824 738h9v3h-9zM852 738h3v1h-3zM880 738h4v1h-4zM898 738h4v1h-4zM904 738h9v3h-9zM941 738h3v1h-3zM946 738h2v2h-2zM965 738h4v1h-4zM983 738h3v1h-3zM995 738h3v3h-3zM1012 738h9v1h-9zM1025 738h4v1h-4zM1031 738h2v1h-2zM1035 738h6v1h-6zM1049 738h3v1h-3zM1066 738h4v1h-4zM1079 738h3v2h-3zM1105 738h13v1h-13zM1134 738h3v1h-3zM1152 738h3v1h-3zM1164 738h3v3h-3zM24 739h3v2h-3zM35 739h5v1h-5zM47 739h4v1h-4zM60 739h3v2h-3zM65 739h3v1h-3zM98 739h3v2h-3zM106 739h2v1h-2zM132 739h4v1h-4zM140 739h3v2h-3zM150 739h4v1h-4zM180 739h3v1h-3zM185 739h3v2h-3zM189 739h2v2h-2zM212 739h4v1h-4zM230 739h4v1h-4zM239 739h4v1h-4zM264 739h5v1h-5zM273 739h3v2h-3zM284 739h5v1h-5zM296 739h4v1h-4zM309 739h3v2h-3zM314 739h3v1h-3zM323 739h3v1h-3zM347 739h3v2h-3zM355 739h2v1h-2zM381 739h4v1h-4zM389 739h3v2h-3zM399 739h4v1h-4zM408 739h4v1h-4zM429 739h3v2h-3zM438 739h2v2h-2zM461 739h4v1h-4zM469 739h3v2h-3zM479 739h4v1h-4zM487 739h2v1h-2zM493 739h2v1h-2zM527 739h3v2h-3zM532 739h3v2h-3zM537 739h5v1h-5zM550 739h3v1h-3zM558 739h2v1h-2zM568 739h3v1h-3zM575 739h3v2h-3zM596 739h3v2h-3zM604 739h2v1h-2zM616 739h3v2h-3zM630 739h4v1h-4zM638 739h3v2h-3zM648 739h4v1h-4zM656 739h2v1h-2zM662 739h2v1h-2zM683 739h3v2h-3zM692 739h2v2h-2zM715 739h4v1h-4zM728 739h3v2h-3zM733 739h3v1h-3zM776 739h3v2h-3zM781 739h3v2h-3zM786 739h5v1h-5zM799 739h3v1h-3zM816 739h4v1h-4zM845 739h3v2h-3zM853 739h2v1h-2zM879 739h4v1h-4zM887 739h3v2h-3zM897 739h4v1h-4zM932 739h3v2h-3zM941 739h2v2h-2zM964 739h4v1h-4zM977 739h3v2h-3zM982 739h3v1h-3zM1012 739h3v4h-3zM1016 739h5v1h-5zM1025 739h3v2h-3zM1030 739h3v2h-3zM1035 739h5v1h-5zM1048 739h3v1h-3zM1065 739h4v1h-4zM1099 739h2v1h-2zM1106 739h3v2h-3zM1110 739h8v1h-8zM1133 739h3v1h-3zM1146 739h3v2h-3zM1151 739h3v1h-3zM16 740h4v1h-4zM29 740h3v1h-3zM35 740h4v1h-4zM46 740h4v1h-4zM55 740h3v1h-3zM64 740h3v1h-3zM105 740h3v1h-3zM109 740h3v1h-3zM115 740h2v1h-2zM123 740h3v1h-3zM132 740h3v1h-3zM145 740h3v1h-3zM150 740h3v1h-3zM181 740h2v1h-2zM212 740h3v1h-3zM225 740h3v1h-3zM230 740h3v1h-3zM238 740h4v1h-4zM265 740h4v1h-4zM278 740h3v1h-3zM284 740h4v2h-4zM295 740h4v1h-4zM304 740h3v1h-3zM313 740h3v1h-3zM322 740h3v1h-3zM354 740h3v1h-3zM358 740h3v1h-3zM364 740h2v1h-2zM372 740h3v1h-3zM381 740h3v1h-3zM394 740h3v1h-3zM398 740h4v1h-4zM407 740h4v1h-4zM461 740h3v1h-3zM474 740h3v1h-3zM479 740h3v1h-3zM487 740h3v1h-3zM492 740h3v1h-3zM518 740h4v1h-4zM538 740h4v2h-4zM549 740h3v1h-3zM558 740h3v1h-3zM567 740h3v1h-3zM603 740h3v1h-3zM607 740h3v1h-3zM613 740h2v1h-2zM621 740h3v1h-3zM630 740h3v1h-3zM643 740h3v1h-3zM647 740h4v1h-4zM656 740h3v1h-3zM661 740h3v1h-3zM696 740h4v1h-4zM714 740h4v1h-4zM723 740h3v1h-3zM732 740h3v1h-3zM767 740h4v1h-4zM787 740h4v2h-4zM798 740h3v1h-3zM807 740h2v1h-2zM812 740h2v1h-2zM816 740h3v1h-3zM852 740h3v1h-3zM856 740h3v1h-3zM862 740h2v1h-2zM865 740h3v1h-3zM870 740h3v1h-3zM879 740h3v1h-3zM892 740h3v1h-3zM896 740h4v1h-4zM945 740h4v1h-4zM963 740h4v1h-4zM972 740h3v1h-3zM981 740h3v1h-3zM989 740h3v1h-3zM1016 740h4v1h-4zM1036 740h4v1h-4zM1047 740h3v1h-3zM1056 740h2v1h-2zM1061 740h2v1h-2zM1065 740h3v1h-3zM1073 740h3v1h-3zM1079 740h2v1h-2zM1099 740h3v1h-3zM1110 740h2v1h-2zM1115 740h3v1h-3zM1119 740h3v1h-3zM1132 740h3v1h-3zM1141 740h3v1h-3zM1150 740h3v1h-3zM1158 740h3v1h-3zM16 741h3v2h-3zM25 741h9v2h-9zM36 741h3v2h-3zM46 741h8v2h-8zM55 741h7v1h-7zM64 741h8v2h-8zM73 741h8v2h-8zM99 741h9v1h-9zM109 741h8v1h-8zM118 741h8v1h-8zM131 741h8v2h-8zM141 741h7v1h-7zM149 741h8v2h-8zM158 741h8v2h-8zM181 741h7v1h-7zM189 741h12v2h-12zM211 741h9v2h-9zM221 741h7v1h-7zM229 741h8v2h-8zM238 741h8v2h-8zM265 741h3v2h-3zM274 741h9v2h-9zM295 741h8v2h-8zM304 741h7v1h-7zM313 741h8v2h-8zM322 741h8v2h-8zM348 741h9v1h-9zM358 741h8v1h-8zM367 741h8v1h-8zM380 741h8v2h-8zM390 741h7v1h-7zM398 741h8v2h-8zM407 741h8v2h-8zM430 741h7v1h-7zM438 741h12v2h-12zM460 741h8v2h-8zM470 741h7v1h-7zM478 741h8v2h-8zM487 741h8v1h-8zM519 741h3v2h-3zM527 741h9v1h-9zM549 741h8v2h-8zM558 741h7v1h-7zM566 741h17v1h-17zM597 741h9v1h-9zM607 741h8v1h-8zM616 741h8v1h-8zM629 741h8v2h-8zM639 741h7v1h-7zM647 741h8v2h-8zM656 741h8v1h-8zM684 741h6v2h-6zM692 741h11v2h-11zM714 741h8v2h-8zM723 741h7v1h-7zM732 741h8v2h-8zM745 741h3v2h-3zM768 741h3v2h-3zM776 741h9v1h-9zM798 741h8v2h-8zM807 741h7v1h-7zM815 741h9v2h-9zM829 741h2v2h-2zM846 741h9v1h-9zM856 741h8v1h-8zM865 741h8v1h-8zM878 741h8v2h-8zM888 741h7v1h-7zM896 741h8v2h-8zM909 741h3v2h-3zM932 741h7v1h-7zM941 741h11v2h-11zM963 741h8v2h-8zM972 741h7v1h-7zM981 741h8v2h-8zM990 741h8v1h-8zM1017 741h3v1h-3zM1025 741h9v1h-9zM1036 741h3v3h-3zM1047 741h8v1h-8zM1056 741h7v1h-7zM1064 741h17v1h-17zM1099 741h10v1h-10zM1110 741h8v1h-8zM1119 741h7v2h-7zM1132 741h8v2h-8zM1141 741h7v1h-7zM1150 741h8v2h-8zM1159 741h7v2h-7zM56 742h6v1h-6zM100 742h7v1h-7zM110 742h6v1h-6zM118 742h7v1h-7zM141 742h6v1h-6zM182 742h5v1h-5zM221 742h6v1h-6zM285 742h2v1h-2zM305 742h6v1h-6zM349 742h7v1h-7zM359 742h6v1h-6zM367 742h7v1h-7zM390 742h6v1h-6zM430 742h6v1h-6zM470 742h6v1h-6zM488 742h6v1h-6zM528 742h8v1h-8zM539 742h2v1h-2zM559 742h5v1h-5zM566 742h9v1h-9zM576 742h7v1h-7zM597 742h8v1h-8zM608 742h6v1h-6zM616 742h7v1h-7zM639 742h6v1h-6zM657 742h6v1h-6zM724 742h6v1h-6zM777 742h8v1h-8zM787 742h3v2h-3zM808 742h5v1h-5zM846 742h8v1h-8zM857 742h6v1h-6zM865 742h7v1h-7zM888 742h6v1h-6zM933 742h6v1h-6zM973 742h6v1h-6zM990 742h7v1h-7zM1017 742h2v1h-2zM1026 742h8v1h-8zM1046 742h9v1h-9zM1057 742h5v1h-5zM1064 742h9v1h-9zM1074 742h6v1h-6zM1100 742h8v1h-8zM1111 742h6v1h-6zM1142 742h6v1h-6zM35 743h3v1h-3zM118 743h3v3h-3zM284 743h3v1h-3zM367 743h2v3h-2zM538 743h3v1h-3zM616 743h2v3h-2zM865 743h2v3h-2zM1119 743h2v3h-2zM33 744h5v1h-5zM282 744h5v1h-5zM536 744h4v2h-4zM785 744h4v2h-4zM1034 744h4v2h-4zM33 745h4v1h-4zM282 745h4v1h-4z"/></clipPath></defs>
<g class="labels" clip-path="url(#glyphmask)">
<text class="lbl" transform="translate(8.00,48.50) scale(1,1.00000)">628</text><text class="lbl" transform="translate(8.00,70.96) scale(1,1.00000)">602</text><text class="lbl" transform="translate(8.00,93.42) scale(1,1.00000)">576</text><text class="lbl" transform="translate(8.00,115.88) scale(1,1.00000)">550</text><text class="lbl" transform="translate(8.00,138.34) scale(1,1.00000)">524</text><text class="lbl" transform="translate(8.00,160.80) scale(1,1.00000)">498</text><text class="lbl" transform="translate(8.00,183.26) scale(1,1.00000)">472</text><text class="lbl" transform="translate(8.00,205.72) scale(1,1.00000)">446</text><text class="lbl" transform="translate(8.00,228.18) scale(1,1.00000)">420</text><text class="lbl" transform="translate(8.00,250.64) scale(1,1.00000)">394</text><text class="lbl" transform="translate(8.00,273.10) scale(1,1.00000)">368</text><text class="lbl" transform="translate(8.00,295.56) scale(1,1.00000)">342</text><text class="lbl" transform="translate(8.00,318.00) scale(1,1.00000)">316</text><text class="lbl" transform="translate(8.00,340.48) scale(1,1.00000)">290</text><text class="lbl" transform="translate(8.00,362.94) scale(1,1.00000)">264</text><text class="lbl" transform="translate(8.00,385.40) scale(1,1.00000)">238</text><text class="lbl" transform="translate(8.00,407.86) scale(1,1.00000)">212</text><text class="lbl" transform="translate(8.00,430.32) scale(1,1.00000)">186</text><text class="lbl" transform="translate(8.00,452.78) scale(1,1.00000)">160</text><text class="lbl" transform="translate(8.00,475.24) scale(1,1.00000)">134</text><text class="lbl" transform="translate(8.00,497.70) scale(1,1.00000)">108</text><text class="lbl" transform="translate(16.90,520.16) scale(1,1.00000)">82</text><text class="lbl" transform="translate(16.90,542.62) scale(1,1.00000)">56</text><text class="lbl" transform="translate(16.90,565.08) scale(1,1.00000)">30</text><text class="lbl" transform="translate(25.80,587.54) scale(1,1.00000)">4</text><text class="lbl" transform="translate(10.98,610.00) scale(1,1.00000)">-22</text><text class="lbl" transform="translate(10.98,632.46) scale(1,1.00000)">-48</text><text class="lbl" transform="translate(10.98,654.92) scale(1,1.00000)">-74</text><text class="lbl" transform="translate(2.08,677.38) scale(1,1.00000)">-100</text><text class="lbl" transform="translate(2.08,699.84) scale(1,1.00000)">-126</text><text class="lbl" transform="translate(2.08,722.30) scale(1,1.00000)">-152</text><text class="lbl" transform="translate(10.92,742.90) scale(1,1.00000)">May 2021</text><text class="lbl" transform="translate(97.97,742.90) scale(1,1.00000)">Sep 2021</text><text class="lbl" transform="translate(180.69,742.90) scale(1,1.00000)">Jan 2022</text><text class="lbl" transform="translate(259.87,742.90) scale(1,1.00000)">May 2022</text><text class="lbl" transform="translate(346.92,742.90) scale(1,1.00000)">Sep 2022</text><text class="lbl" transform="translate(429.64,742.90) scale(1,1.00000)">Jan 2023</text><text class="lbl" transform="translate(513.60,742.90) scale(1,1.00000)">May 2023</text><text class="lbl" transform="translate(595.87,742.90) scale(1,1.00000)">Sep 2023</text><text class="lbl" transform="translate(683.38,742.90) scale(1,1.00000)">Jan 2024</text><text class="lbl" transform="translate(762.55,742.90) scale(1,1.00000)">May 2024</text><text class="lbl" transform="translate(844.82,742.90) scale(1,1.00000)">Sep 2024</text><text class="lbl" transform="translate(932.33,742.90) scale(1,1.00000)">Jan 2025</text><text class="lbl" transform="translate(1011.50,742.90) scale(1,1.00000)">May 2025</text><text class="lbl" transform="translate(1098.56,742.90) scale(1,1.00000)">Sep 2025</text><text class="lbl" transform="translate(528.70,23.52) scale(1,1.00000)">Additions</text><text class="lbl" transform="translate(652.45,23.52) scale(1,1.00000)">Deletions</text>
</g>
<path class="px" d="M533 11h3v1h-3zM545 11h3v3h-3zM554 11h3v3h-3zM558 11h2v2h-2zM566 11h2v2h-2zM653 11h7v1h-7zM673 11h3v6h-3zM690 11h3v2h-3zM532 12h4v2h-4zM562 12h2v2h-2zM653 12h9v1h-9zM686 12h2v2h-2zM653 13h3v9h-3zM659 13h4v1h-4zM531 14h6v2h-6zM541 14h7v1h-7zM550 14h7v1h-7zM558 14h7v2h-7zM566 14h2v8h-2zM571 14h5v1h-5zM578 14h7v1h-7zM588 14h5v1h-5zM660 14h3v1h-3zM666 14h5v1h-5zM679 14h4v1h-4zM685 14h8v2h-8zM695 14h5v1h-5zM703 14h7v2h-7zM713 14h5v1h-5zM540 15h8v1h-8zM549 15h8v1h-8zM570 15h7v1h-7zM578 15h8v1h-8zM587 15h7v1h-7zM661 15h3v1h-3zM665 15h7v1h-7zM677 15h7v1h-7zM694 15h7v1h-7zM712 15h7v1h-7zM531 16h2v1h-2zM535 16h2v1h-2zM540 16h3v1h-3zM544 16h4v1h-4zM549 16h3v1h-3zM553 16h4v1h-4zM558 16h2v8h-2zM561 16h3v6h-3zM569 16h3v2h-3zM574 16h3v1h-3zM578 16h3v8h-3zM583 16h3v2h-3zM587 16h2v1h-2zM592 16h2v1h-2zM661 16h7v1h-7zM669 16h3v1h-3zM677 16h3v1h-3zM682 16h3v2h-3zM686 16h2v5h-2zM690 16h3v6h-3zM694 16h3v1h-3zM699 16h3v2h-3zM703 16h3v1h-3zM708 16h6v1h-6zM716 16h3v1h-3zM530 17h3v1h-3zM535 17h3v1h-3zM540 17h2v4h-2zM545 17h3v1h-3zM549 17h2v1h-2zM554 17h3v4h-3zM575 17h2v4h-2zM587 17h3v1h-3zM661 17h6v1h-6zM670 17h6v1h-6zM677 17h2v1h-2zM694 17h2v4h-2zM703 17h2v7h-2zM708 17h7v1h-7zM530 18h8v1h-8zM545 18h6v2h-6zM569 18h2v2h-2zM584 18h2v6h-2zM587 18h6v1h-6zM661 18h15v2h-15zM677 18h8v2h-8zM700 18h2v2h-2zM708 18h3v3h-3zM712 18h6v1h-6zM530 19h9v1h-9zM589 19h5v1h-5zM713 19h6v1h-6zM529 20h3v2h-3zM536 20h3v1h-3zM545 20h3v1h-3zM549 20h2v1h-2zM569 20h3v2h-3zM591 20h3v1h-3zM660 20h3v1h-3zM664 20h3v1h-3zM673 20h3v4h-3zM677 20h2v1h-2zM699 20h3v2h-3zM716 20h3v2h-3zM537 21h2v1h-2zM540 21h3v1h-3zM544 21h4v1h-4zM549 21h3v1h-3zM553 21h4v1h-4zM574 21h3v1h-3zM587 21h2v1h-2zM592 21h2v1h-2zM659 21h4v1h-4zM664 21h4v1h-4zM670 21h2v1h-2zM677 21h3v1h-3zM682 21h3v1h-3zM686 21h3v1h-3zM694 21h3v1h-3zM708 21h6v1h-6zM528 22h3v2h-3zM537 22h11v1h-11zM549 22h8v1h-8zM562 22h6v2h-6zM570 22h7v1h-7zM587 22h7v1h-7zM653 22h9v1h-9zM665 22h7v1h-7zM677 22h8v1h-8zM686 22h7v1h-7zM694 22h7v1h-7zM708 22h11v1h-11zM537 23h3v1h-3zM541 23h7v1h-7zM550 23h7v1h-7zM571 23h5v1h-5zM588 23h5v1h-5zM653 23h8v1h-8zM666 23h5v1h-5zM678 23h6v1h-6zM687 23h6v1h-6zM695 23h5v1h-5zM708 23h3v1h-3zM712 23h6v1h-6zM11 36h4v1h-4zM19 36h5v1h-5zM28 36h5v1h-5zM9 37h7v1h-7zM18 37h7v1h-7zM27 37h7v1h-7zM9 38h3v1h-3zM13 38h3v1h-3zM17 38h4v1h-4zM22 38h3v1h-3zM26 38h3v3h-3zM31 38h3v1h-3zM9 39h2v1h-2zM17 39h3v1h-3zM23 39h2v2h-2zM32 39h2v1h-2zM9 40h6v1h-6zM31 40h3v1h-3zM8 41h8v1h-8zM22 41h3v1h-3zM27 41h7v2h-7zM8 42h4v1h-4zM13 42h3v1h-3zM21 42h3v1h-3zM8 43h3v2h-3zM14 43h3v3h-3zM20 43h4v1h-4zM26 43h3v4h-3zM31 43h3v1h-3zM19 44h4v1h-4zM32 44h2v2h-2zM9 45h2v1h-2zM18 45h3v1h-3zM9 46h3v1h-3zM13 46h3v1h-3zM18 46h2v1h-2zM31 46h3v1h-3zM9 47h7v1h-7zM17 47h8v2h-8zM27 47h7v1h-7zM10 48h5v1h-5zM28 48h5v1h-5zM12 58h1v1h-1zM21 58h1v1h-1zM30 58h1v1h-1zM10 59h6v1h-6zM18 59h6v1h-6zM27 59h6v1h-6zM9 60h7v1h-7zM18 60h7v1h-7zM26 60h8v1h-8zM9 61h3v1h-3zM14 61h2v1h-2zM17 61h3v3h-3zM23 61h2v2h-2zM26 61h3v2h-3zM31 61h3v1h-3zM9 62h2v1h-2zM32 62h2v1h-2zM8 63h8v2h-8zM23 63h3v4h-3zM31 63h3v1h-3zM17 64h2v1h-2zM30 64h4v1h-4zM8 65h3v2h-3zM14 65h6v4h-6zM29 65h4v1h-4zM28 66h4v1h-4zM9 67h2v1h-2zM23 67h2v1h-2zM27 67h4v1h-4zM9 68h3v1h-3zM22 68h3v1h-3zM27 68h3v1h-3zM9 69h7v1h-7zM18 69h7v1h-7zM26 69h8v2h-8zM10 70h6v1h-6zM18 70h6v1h-6zM9 81h7v2h-7zM17 81h8v2h-8zM28 81h5v1h-5zM27 82h7v1h-7zM9 83h2v3h-2zM22 83h3v2h-3zM27 83h3v1h-3zM31 83h3v1h-3zM26 84h3v1h-3zM21 85h3v2h-3zM26 85h7v1h-7zM9 86h6v1h-6zM26 86h8v1h-8zM9 87h7v1h-7zM20 87h3v2h-3zM26 87h3v4h-3zM31 87h3v1h-3zM8 88h3v1h-3zM13 88h4v1h-4zM32 88h2v3h-2zM14 89h3v2h-3zM20 89h2v2h-2zM8 90h3v1h-3zM8 91h4v1h-4zM13 91h3v1h-3zM19 91h3v3h-3zM27 91h3v1h-3zM31 91h3v1h-3zM9 92h7v1h-7zM27 92h7v1h-7zM10 93h5v1h-5zM28 93h5v1h-5zM9 103h7v3h-7zM18 103h7v3h-7zM29 103h3v1h-3zM27 104h6v1h-6zM27 105h7v1h-7zM9 106h2v3h-2zM18 106h2v2h-2zM26 106h3v2h-3zM32 106h2v3h-2zM12 108h2v1h-2zM17 108h6v1h-6zM26 108h2v3h-2zM9 109h7v1h-7zM17 109h8v2h-8zM32 109h3v2h-3zM8 110h8v1h-8zM14 111h3v2h-3zM23 111h5v1h-5zM32 111h2v2h-2zM23 112h6v1h-6zM8 113h3v1h-3zM14 113h6v1h-6zM23 113h2v1h-2zM26 113h3v1h-3zM31 113h3v1h-3zM8 114h8v1h-8zM17 114h8v1h-8zM27 114h7v1h-7zM9 115h6v1h-6zM18 115h6v1h-6zM27 115h6v1h-6zM9 126h7v2h-7zM19 126h5v1h-5zM30 126h3v2h-3zM18 127h7v1h-7zM9 128h2v3h-2zM17 128h3v2h-3zM22 128h3v1h-3zM29 128h4v1h-4zM23 129h2v2h-2zM28 129h5v2h-5zM9 131h6v1h-6zM22 131h3v1h-3zM27 131h3v1h-3zM31 131h2v3h-2zM9 132h7v1h-7zM21 132h3v1h-3zM27 132h2v1h-2zM8 133h3v1h-3zM13 133h4v1h-4zM20 133h3v1h-3zM26 133h3v1h-3zM14 134h3v2h-3zM19 134h3v1h-3zM26 134h9v2h-9zM8 135h3v1h-3zM18 135h3v1h-3zM8 136h4v1h-4zM13 136h3v1h-3zM17 136h3v1h-3zM31 136h2v3h-2zM9 137h7v1h-7zM17 137h8v2h-8zM10 138h5v1h-5zM13 148h2v1h-2zM20 148h3v1h-3zM29 148h3v1h-3zM12 149h3v2h-3zM18 149h6v1h-6zM27 149h7v1h-7zM18 150h7v1h-7zM26 150h4v1h-4zM31 150h3v1h-3zM11 151h4v1h-4zM17 151h3v4h-3zM22 151h3v1h-3zM26 151h3v2h-3zM32 151h2v2h-2zM10 152h5v2h-5zM23 152h2v2h-2zM27 153h7v1h-7zM9 154h3v1h-3zM13 154h2v2h-2zM22 154h4v1h-4zM27 154h6v1h-6zM8 155h3v1h-3zM18 155h7v2h-7zM26 155h8v1h-8zM8 156h9v2h-9zM26 156h3v3h-3zM32 156h2v3h-2zM23 157h2v1h-2zM13 158h2v3h-2zM17 158h3v1h-3zM22 158h3v1h-3zM18 159h7v1h-7zM26 159h8v1h-8zM18 160h6v1h-6zM27 160h6v1h-6zM12 171h3v2h-3zM17 171h8v2h-8zM28 171h5v1h-5zM27 172h7v1h-7zM11 173h4v2h-4zM22 173h3v2h-3zM26 173h3v2h-3zM31 173h3v1h-3zM32 174h2v1h-2zM10 175h5v1h-5zM21 175h3v2h-3zM31 175h3v2h-3zM9 176h3v2h-3zM13 176h2v3h-2zM20 177h3v2h-3zM30 177h3v1h-3zM8 178h3v1h-3zM28 178h4v1h-4zM8 179h9v2h-9zM20 179h2v1h-2zM28 179h3v1h-3zM19 180h3v4h-3zM27 180h3v1h-3zM13 181h2v3h-2zM26 181h3v1h-3zM26 182h8v2h-8zM13 193h2v1h-2zM22 193h2v1h-2zM29 193h3v1h-3zM12 194h3v2h-3zM21 194h3v1h-3zM27 194h7v1h-7zM20 195h4v2h-4zM27 195h3v1h-3zM31 195h3v1h-3zM11 196h4v1h-4zM26 196h3v1h-3zM32 196h2v1h-2zM10 197h5v2h-5zM19 197h5v1h-5zM26 197h6v1h-6zM19 198h2v1h-2zM22 198h2v3h-2zM26 198h8v1h-8zM9 199h3v1h-3zM13 199h2v2h-2zM18 199h3v1h-3zM26 199h4v1h-4zM31 199h3v1h-3zM8 200h3v1h-3zM17 200h3v1h-3zM26 200h3v1h-3zM32 200h2v3h-2zM8 201h21v2h-21zM13 203h2v3h-2zM22 203h2v3h-2zM27 203h3v1h-3zM31 203h3v1h-3zM27 204h7v1h-7zM28 205h5v1h-5zM12 216h3v2h-3zM19 216h5v1h-5zM27 216h6v1h-6zM18 217h7v1h-7zM27 217h7v1h-7zM11 218h4v2h-4zM17 218h3v2h-3zM22 218h3v1h-3zM26 218h3v2h-3zM31 218h3v1h-3zM23 219h2v1h-2zM32 219h2v2h-2zM10 220h5v1h-5zM22 220h3v2h-3zM26 220h2v4h-2zM9 221h3v2h-3zM13 221h2v3h-2zM32 221h3v2h-3zM21 222h3v1h-3zM8 223h3v1h-3zM19 223h4v1h-4zM32 223h2v2h-2zM8 224h9v2h-9zM19 224h3v1h-3zM26 224h3v2h-3zM18 225h3v1h-3zM31 225h3v1h-3zM13 226h2v3h-2zM17 226h8v3h-8zM27 226h7v1h-7zM27 227h6v1h-6zM29 228h3v1h-3zM10 238h5v1h-5zM19 238h4v1h-4zM31 238h2v1h-2zM9 239h7v1h-7zM18 239h6v1h-6zM30 239h3v1h-3zM8 240h4v1h-4zM13 240h3v1h-3zM17 240h4v1h-4zM22 240h3v1h-3zM29 240h4v2h-4zM8 241h3v1h-3zM14 241h2v1h-2zM17 241h3v4h-3zM23 241h2v3h-2zM13 242h3v1h-3zM28 242h5v1h-5zM11 243h5v2h-5zM27 243h3v2h-3zM31 243h2v3h-2zM22 244h4v1h-4zM13 245h3v1h-3zM18 245h7v2h-7zM26 245h3v1h-3zM14 246h3v2h-3zM26 246h9v2h-9zM8 247h3v2h-3zM23 247h2v1h-2zM13 248h7v1h-7zM22 248h3v1h-3zM31 248h2v3h-2zM9 249h7v1h-7zM18 249h6v1h-6zM10 250h5v1h-5zM18 250h5v1h-5zM9 261h7v2h-7zM19 261h5v1h-5zM27 261h6v1h-6zM18 262h7v1h-7zM26 262h8v1h-8zM8 263h3v1h-3zM14 263h2v2h-2zM18 263h3v1h-3zM23 263h2v1h-2zM26 263h3v2h-3zM32 263h2v2h-2zM9 264h2v1h-2zM17 264h3v1h-3zM12 265h4v1h-4zM17 265h7v1h-7zM26 265h4v1h-4zM31 265h3v1h-3zM11 266h4v1h-4zM17 266h8v1h-8zM27 266h6v1h-6zM11 267h5v1h-5zM17 267h3v1h-3zM23 267h2v1h-2zM26 267h8v1h-8zM14 268h6v2h-6zM23 268h6v2h-6zM32 268h2v3h-2zM8 269h3v2h-3zM14 270h3v1h-3zM18 270h2v1h-2zM23 270h2v1h-2zM26 270h3v1h-3zM8 271h8v1h-8zM18 271h7v1h-7zM26 271h8v1h-8zM9 272h7v1h-7zM19 272h6v1h-6zM27 272h7v1h-7zM12 273h1v1h-1zM20 273h3v1h-3zM29 273h2v1h-2zM10 283h5v1h-5zM22 283h2v1h-2zM28 283h5v1h-5zM9 284h7v1h-7zM21 284h3v1h-3zM27 284h7v1h-7zM8 285h4v1h-4zM13 285h3v1h-3zM20 285h4v2h-4zM26 285h4v1h-4zM31 285h3v1h-3zM8 286h3v1h-3zM14 286h2v1h-2zM26 286h3v1h-3zM32 286h2v2h-2zM13 287h3v1h-3zM19 287h5v1h-5zM11 288h5v2h-5zM18 288h3v2h-3zM22 288h2v3h-2zM31 288h3v1h-3zM30 289h3v1h-3zM13 290h7v1h-7zM29 290h4v1h-4zM14 291h12v2h-12zM28 291h3v1h-3zM8 292h3v1h-3zM27 292h3v1h-3zM8 293h4v1h-4zM13 293h4v1h-4zM22 293h2v3h-2zM26 293h3v1h-3zM9 294h7v1h-7zM26 294h8v2h-8zM10 295h5v1h-5zM9 306h7v2h-7zM19 306h4v1h-4zM28 306h5v1h-5zM18 307h5v2h-5zM27 307h7v1h-7zM8 308h3v1h-3zM14 308h2v2h-2zM27 308h2v1h-2zM32 308h2v1h-2zM18 309h1v1h-1zM20 309h3v7h-3zM26 309h3v1h-3zM11 310h5v1h-5zM26 310h7v1h-7zM11 311h4v1h-4zM26 311h8v1h-8zM11 312h5v1h-5zM26 312h3v4h-3zM32 312h2v4h-2zM14 313h3v3h-3zM8 314h3v2h-3zM8 316h8v1h-8zM18 316h8v2h-8zM27 316h7v1h-7zM9 317h7v1h-7zM28 317h5v1h-5zM10 328h5v1h-5zM19 328h5v1h-5zM28 328h5v1h-5zM9 329h7v1h-7zM18 329h7v1h-7zM27 329h7v1h-7zM9 330h3v1h-3zM13 330h3v1h-3zM17 330h4v1h-4zM22 330h3v1h-3zM26 330h4v1h-4zM31 330h3v1h-3zM8 331h3v1h-3zM14 331h2v2h-2zM17 331h3v4h-3zM23 331h2v2h-2zM26 331h3v2h-3zM32 331h2v2h-2zM13 333h3v1h-3zM23 333h5v1h-5zM32 333h3v3h-3zM12 334h4v1h-4zM22 334h6v1h-6zM11 335h4v1h-4zM18 335h7v1h-7zM26 335h2v1h-2zM10 336h4v1h-4zM19 336h6v1h-6zM26 336h3v2h-3zM32 336h2v2h-2zM9 337h4v1h-4zM23 337h2v1h-2zM9 338h3v1h-3zM17 338h3v1h-3zM22 338h3v1h-3zM26 338h4v1h-4zM31 338h3v1h-3zM8 339h9v2h-9zM18 339h6v1h-6zM27 339h6v1h-6zM19 340h4v1h-4zM28 340h4v1h-4zM12 350h1v1h-1zM21 350h1v1h-1zM31 350h2v1h-2zM9 351h7v2h-7zM19 351h6v1h-6zM30 351h3v1h-3zM18 352h7v1h-7zM29 352h4v2h-4zM8 353h3v1h-3zM14 353h2v2h-2zM18 353h2v1h-2zM23 353h2v1h-2zM9 354h2v1h-2zM17 354h3v1h-3zM28 354h5v1h-5zM13 355h3v2h-3zM17 355h8v2h-8zM28 355h2v1h-2zM31 355h2v3h-2zM27 356h3v1h-3zM11 357h4v1h-4zM17 357h3v3h-3zM23 357h2v1h-2zM26 357h3v1h-3zM10 358h4v1h-4zM23 358h12v2h-12zM9 359h4v1h-4zM9 360h3v1h-3zM18 360h2v1h-2zM23 360h2v1h-2zM26 360h9v1h-9zM8 361h9v2h-9zM18 361h7v1h-7zM31 361h2v2h-2zM19 362h5v1h-5zM10 373h5v1h-5zM19 373h5v1h-5zM28 373h5v1h-5zM9 374h7v1h-7zM18 374h7v1h-7zM27 374h7v1h-7zM9 375h3v1h-3zM13 375h3v1h-3zM17 375h3v2h-3zM22 375h3v1h-3zM26 375h3v3h-3zM31 375h3v1h-3zM8 376h3v1h-3zM14 376h2v2h-2zM23 376h2v1h-2zM32 376h2v1h-2zM22 377h3v1h-3zM31 377h3v1h-3zM13 378h3v1h-3zM20 378h5v2h-5zM27 378h7v2h-7zM12 379h3v1h-3zM11 380h4v1h-4zM22 380h3v1h-3zM26 380h3v1h-3zM31 380h3v1h-3zM10 381h4v1h-4zM18 381h1v1h-1zM23 381h6v2h-6zM32 381h2v2h-2zM9 382h3v2h-3zM17 382h3v1h-3zM17 383h4v1h-4zM22 383h3v1h-3zM26 383h3v1h-3zM31 383h3v1h-3zM8 384h9v2h-9zM18 384h7v1h-7zM27 384h7v1h-7zM19 385h5v1h-5zM28 385h5v1h-5zM11 395h3v1h-3zM20 395h3v1h-3zM29 395h2v1h-2zM9 396h7v2h-7zM19 396h4v1h-4zM27 396h6v1h-6zM18 397h5v2h-5zM26 397h8v1h-8zM8 398h3v1h-3zM14 398h2v2h-2zM26 398h3v1h-3zM32 398h2v2h-2zM9 399h2v1h-2zM18 399h1v1h-1zM20 399h3v7h-3zM27 399h2v1h-2zM13 400h3v1h-3zM31 400h3v1h-3zM12 401h4v1h-4zM30 401h4v1h-4zM11 402h4v1h-4zM29 402h4v1h-4zM10 403h4v1h-4zM28 403h4v1h-4zM9 404h4v1h-4zM27 404h4v1h-4zM9 405h3v1h-3zM27 405h3v1h-3zM8 406h9v2h-9zM18 406h16v2h-16zM11 418h3v1h-3zM19 418h5v1h-5zM28 418h5v1h-5zM9 419h5v2h-5zM18 419h7v1h-7zM27 419h7v1h-7zM17 420h3v3h-3zM22 420h3v1h-3zM27 420h3v1h-3zM31 420h3v1h-3zM9 421h2v1h-2zM12 421h2v8h-2zM23 421h2v1h-2zM26 421h3v1h-3zM22 422h3v1h-3zM26 422h7v1h-7zM18 423h7v2h-7zM26 423h8v1h-8zM26 424h3v2h-3zM31 424h3v1h-3zM17 425h3v3h-3zM23 425h2v1h-2zM32 425h2v3h-2zM23 426h6v2h-6zM17 428h4v1h-4zM22 428h3v1h-3zM27 428h3v1h-3zM31 428h3v1h-3zM9 429h8v2h-8zM18 429h7v1h-7zM27 429h7v1h-7zM19 430h5v1h-5zM29 430h3v1h-3zM11 440h3v1h-3zM20 440h3v1h-3zM29 440h3v1h-3zM10 441h4v1h-4zM19 441h6v1h-6zM27 441h6v1h-6zM9 442h5v2h-5zM18 442h7v1h-7zM27 442h7v1h-7zM18 443h2v1h-2zM23 443h2v1h-2zM26 443h3v2h-3zM32 443h2v3h-2zM9 444h1v1h-1zM12 444h2v7h-2zM17 444h6v1h-6zM17 445h8v2h-8zM26 445h2v3h-2zM32 446h3v2h-3zM17 447h3v3h-3zM23 447h2v1h-2zM23 448h5v1h-5zM32 448h2v2h-2zM23 449h6v1h-6zM18 450h3v1h-3zM22 450h3v1h-3zM26 450h3v1h-3zM31 450h3v1h-3zM9 451h8v2h-8zM18 451h7v1h-7zM27 451h7v1h-7zM19 452h5v1h-5zM28 452h5v1h-5zM11 463h3v1h-3zM18 463h6v1h-6zM30 463h3v2h-3zM9 464h5v2h-5zM18 464h7v1h-7zM17 465h3v2h-3zM22 465h3v1h-3zM29 465h4v1h-4zM9 466h2v1h-2zM12 466h2v8h-2zM23 466h2v1h-2zM28 466h5v2h-5zM22 467h3v1h-3zM20 468h4v1h-4zM27 468h3v1h-3zM31 468h2v3h-2zM20 469h5v1h-5zM27 469h2v1h-2zM22 470h3v1h-3zM26 470h3v1h-3zM17 471h2v1h-2zM23 471h12v2h-12zM17 472h3v1h-3zM17 473h8v1h-8zM31 473h2v3h-2zM9 474h8v2h-8zM18 474h7v1h-7zM19 475h4v1h-4zM11 485h3v1h-3zM19 485h4v1h-4zM28 485h4v1h-4zM10 486h4v1h-4zM18 486h7v1h-7zM27 486h7v1h-7zM9 487h5v1h-5zM18 487h3v1h-3zM22 487h3v1h-3zM26 487h4v1h-4zM31 487h3v1h-3zM9 488h2v1h-2zM12 488h2v8h-2zM17 488h3v3h-3zM23 488h2v1h-2zM26 488h3v1h-3zM32 488h2v1h-2zM9 489h1v1h-1zM23 489h6v1h-6zM31 489h3v1h-3zM23 490h3v2h-3zM27 490h7v2h-7zM17 491h2v1h-2zM17 492h3v3h-3zM23 492h7v1h-7zM31 492h3v1h-3zM23 493h6v1h-6zM32 493h2v3h-2zM23 494h2v1h-2zM26 494h3v2h-3zM18 495h2v1h-2zM22 495h3v1h-3zM9 496h8v2h-8zM18 496h7v1h-7zM26 496h8v1h-8zM19 497h5v1h-5zM27 497h6v1h-6zM18 508h6v1h-6zM27 508h6v1h-6zM18 509h7v1h-7zM27 509h7v1h-7zM17 510h3v2h-3zM23 510h2v2h-2zM26 510h3v2h-3zM31 510h3v1h-3zM32 511h2v1h-2zM18 512h3v1h-3zM22 512h3v1h-3zM31 512h3v2h-3zM18 513h7v2h-7zM29 514h4v1h-4zM17 515h3v3h-3zM23 515h2v1h-2zM28 515h4v1h-4zM23 516h3v2h-3zM27 516h4v1h-4zM27 517h3v1h-3zM17 518h4v1h-4zM22 518h3v1h-3zM26 518h8v3h-8zM18 519h7v1h-7zM20 520h3v1h-3zM18 530h7v2h-7zM29 530h4v1h-4zM27 531h7v1h-7zM18 532h2v3h-2zM27 532h3v1h-3zM31 532h3v1h-3zM26 533h3v1h-3zM32 533h1v1h-1zM26 534h7v1h-7zM17 535h7v1h-7zM26 535h8v1h-8zM17 536h8v1h-8zM26 536h4v1h-4zM31 536h3v1h-3zM17 537h4v1h-4zM22 537h3v1h-3zM26 537h3v1h-3zM32 537h2v3h-2zM23 538h6v2h-6zM18 539h1v1h-1zM17 540h3v1h-3zM22 540h3v1h-3zM27 540h3v1h-3zM31 540h3v1h-3zM17 541h8v1h-8zM27 541h7v1h-7zM18 542h6v1h-6zM28 542h5v1h-5zM18 553h6v1h-6zM27 553h6v1h-6zM18 554h7v1h-7zM27 554h7v1h-7zM17 555h3v1h-3zM23 555h2v2h-2zM26 555h3v2h-3zM31 555h3v1h-3zM18 556h2v1h-2zM32 556h2v2h-2zM21 557h4v1h-4zM26 557h2v4h-2zM20 558h4v1h-4zM32 558h3v2h-3zM20 559h5v1h-5zM23 560h2v1h-2zM32 560h2v2h-2zM17 561h3v2h-3zM23 561h6v2h-6zM31 562h3v1h-3zM17 563h8v1h-8zM27 563h7v1h-7zM18 564h7v1h-7zM27 564h6v1h-6zM21 565h1v1h-1zM29 565h2v1h-2zM30 575h3v2h-3zM29 577h4v2h-4zM28 579h5v1h-5zM27 580h3v2h-3zM31 580h2v3h-2zM26 582h3v1h-3zM26 583h9v2h-9zM31 585h2v3h-2zM18 598h6v1h-6zM27 598h6v1h-6zM17 599h8v1h-8zM26 599h7v1h-7zM17 600h3v1h-3zM22 600h3v3h-3zM26 600h2v2h-2zM31 600h3v2h-3zM17 601h2v1h-2zM31 602h2v1h-2zM21 603h3v1h-3zM30 603h3v1h-3zM11 604h5v3h-5zM20 604h3v1h-3zM29 604h3v1h-3zM19 605h3v1h-3zM28 605h3v1h-3zM18 606h3v1h-3zM27 606h3v1h-3zM17 607h3v1h-3zM26 607h3v1h-3zM17 608h8v2h-8zM26 608h8v2h-8zM21 620h3v1h-3zM27 620h5v1h-5zM20 621h4v2h-4zM26 621h7v1h-7zM26 622h3v1h-3zM31 622h3v3h-3zM19 623h5v1h-5zM26 623h2v1h-2zM18 624h6v2h-6zM26 624h3v1h-3zM26 625h7v2h-7zM17 626h3v1h-3zM21 626h3v2h-3zM11 627h5v1h-5zM17 627h2v1h-2zM26 627h3v1h-3zM31 627h3v4h-3zM11 628h17v1h-17zM16 629h12v1h-12zM21 630h3v3h-3zM26 630h3v1h-3zM26 631h7v1h-7zM27 632h5v1h-5zM17 642h8v3h-8zM30 642h3v1h-3zM29 643h4v2h-4zM22 645h2v1h-2zM28 645h5v2h-5zM21 646h3v1h-3zM20 647h3v2h-3zM27 647h6v1h-6zM26 648h3v2h-3zM30 648h3v2h-3zM11 649h5v3h-5zM20 649h2v1h-2zM19 650h3v2h-3zM25 650h9v3h-9zM19 652h2v3h-2zM30 653h3v2h-3zM10 665h3v1h-3zM18 665h5v1h-5zM27 665h5v1h-5zM9 666h4v1h-4zM17 666h7v1h-7zM26 666h7v1h-7zM8 667h5v1h-5zM17 667h3v1h-3zM22 667h3v2h-3zM26 667h3v1h-3zM31 667h2v1h-2zM8 668h2v1h-2zM11 668h2v8h-2zM17 668h2v2h-2zM26 668h2v1h-2zM31 668h3v3h-3zM22 669h6v1h-6zM16 670h3v2h-3zM23 670h5v3h-5zM32 671h2v1h-2zM2 672h5v2h-5zM17 672h2v3h-2zM31 672h3v3h-3zM22 673h6v1h-6zM22 674h3v1h-3zM26 674h2v1h-2zM17 675h3v1h-3zM21 675h3v1h-3zM26 675h3v1h-3zM30 675h3v1h-3zM8 676h8v2h-8zM18 676h6v1h-6zM26 676h7v1h-7zM19 677h4v1h-4zM28 677h4v1h-4zM11 687h2v1h-2zM19 687h3v1h-3zM29 687h2v1h-2zM10 688h3v1h-3zM18 688h6v1h-6zM27 688h6v1h-6zM8 689h5v2h-5zM17 689h8v1h-8zM26 689h8v1h-8zM17 690h2v1h-2zM22 690h3v3h-3zM26 690h3v1h-3zM31 690h3v1h-3zM8 691h2v1h-2zM11 691h2v7h-2zM18 691h1v1h-1zM26 691h2v1h-2zM29 691h2v1h-2zM26 692h7v1h-7zM21 693h3v1h-3zM26 693h8v1h-8zM2 694h5v3h-5zM20 694h3v1h-3zM26 694h2v3h-2zM31 694h3v4h-3zM19 695h3v1h-3zM18 696h3v1h-3zM17 697h3v1h-3zM26 697h3v1h-3zM8 698h8v2h-8zM17 698h8v2h-8zM26 698h7v1h-7zM27 699h6v1h-6zM10 710h3v1h-3zM17 710h7v2h-7zM27 710h5v1h-5zM9 711h4v1h-4zM26 711h7v1h-7zM8 712h5v1h-5zM17 712h2v3h-2zM26 712h3v1h-3zM31 712h3v2h-3zM8 713h2v1h-2zM11 713h2v8h-2zM26 713h2v1h-2zM31 714h2v1h-2zM17 715h7v1h-7zM30 715h3v1h-3zM17 716h8v1h-8zM29 716h4v1h-4zM2 717h5v2h-5zM17 717h2v1h-2zM22 717h3v3h-3zM28 717h4v1h-4zM27 718h4v1h-4zM16 719h3v1h-3zM26 719h4v1h-4zM17 720h3v1h-3zM21 720h4v1h-4zM26 720h3v1h-3zM8 721h8v2h-8zM17 721h7v1h-7zM26 721h8v2h-8zM19 722h4v1h-4zM12 730h3v3h-3zM21 730h2v1h-2zM49 730h2v1h-2zM58 730h2v1h-2zM67 730h2v1h-2zM76 730h2v1h-2zM102 730h3v1h-3zM134 730h2v1h-2zM143 730h2v1h-2zM152 730h2v1h-2zM161 730h3v1h-3zM183 730h5v3h-5zM214 730h2v1h-2zM223 730h2v1h-2zM232 730h2v1h-2zM241 730h2v1h-2zM261 730h3v3h-3zM269 730h3v3h-3zM298 730h2v1h-2zM307 730h2v1h-2zM316 730h2v1h-2zM325 730h2v1h-2zM351 730h3v1h-3zM383 730h2v1h-2zM392 730h2v1h-2zM401 730h2v1h-2zM410 730h2v1h-2zM432 730h5v3h-5zM463 730h2v1h-2zM472 730h2v1h-2zM481 730h2v1h-2zM490 730h2v1h-2zM514 730h3v1h-3zM523 730h3v3h-3zM552 730h2v1h-2zM561 730h2v1h-2zM570 730h1v1h-1zM578 730h2v1h-2zM600 730h3v1h-3zM632 730h2v1h-2zM641 730h2v1h-2zM650 730h2v1h-2zM659 730h2v1h-2zM686 730h5v3h-5zM717 730h2v1h-2zM726 730h2v1h-2zM735 730h2v1h-2zM745 730h3v2h-3zM763 730h3v1h-3zM772 730h3v2h-3zM801 730h2v1h-2zM809 730h3v1h-3zM819 730h1v1h-1zM829 730h2v1h-2zM849 730h2v1h-2zM881 730h2v1h-2zM890 730h2v1h-2zM899 730h2v1h-2zM909 730h3v2h-3zM935 730h5v3h-5zM966 730h2v1h-2zM975 730h2v1h-2zM984 730h2v1h-2zM990 730h7v3h-7zM1012 730h3v1h-3zM1021 730h3v2h-3zM1050 730h2v1h-2zM1058 730h3v1h-3zM1068 730h1v1h-1zM1074 730h7v3h-7zM1103 730h2v1h-2zM1135 730h2v1h-2zM1144 730h2v1h-2zM1153 730h2v1h-2zM1159 730h7v3h-7zM20 731h3v2h-3zM47 731h6v1h-6zM56 731h6v1h-6zM65 731h6v1h-6zM75 731h3v1h-3zM100 731h7v1h-7zM132 731h7v2h-7zM141 731h6v1h-6zM150 731h6v1h-6zM160 731h4v1h-4zM212 731h7v2h-7zM221 731h6v1h-6zM230 731h6v1h-6zM239 731h6v1h-6zM296 731h6v1h-6zM305 731h6v1h-6zM314 731h6v1h-6zM323 731h6v1h-6zM349 731h7v1h-7zM381 731h6v1h-6zM390 731h6v1h-6zM399 731h6v1h-6zM408 731h6v1h-6zM461 731h7v2h-7zM470 731h6v1h-6zM479 731h6v1h-6zM488 731h6v1h-6zM514 731h4v3h-4zM550 731h6v1h-6zM559 731h6v1h-6zM567 731h7v2h-7zM576 731h7v2h-7zM597 731h8v1h-8zM630 731h6v1h-6zM639 731h6v1h-6zM648 731h6v1h-6zM657 731h6v1h-6zM715 731h6v1h-6zM724 731h6v1h-6zM733 731h6v1h-6zM763 731h4v3h-4zM799 731h6v1h-6zM808 731h6v1h-6zM816 731h7v2h-7zM828 731h3v2h-3zM846 731h8v1h-8zM879 731h6v1h-6zM888 731h6v1h-6zM897 731h6v1h-6zM964 731h6v1h-6zM973 731h6v1h-6zM982 731h6v1h-6zM1012 731h4v3h-4zM1048 731h6v1h-6zM1056 731h7v2h-7zM1065 731h7v2h-7zM1100 731h8v2h-8zM1133 731h6v1h-6zM1142 731h6v1h-6zM1151 731h6v1h-6zM46 732h8v1h-8zM55 732h8v1h-8zM64 732h8v1h-8zM73 732h5v2h-5zM99 732h9v1h-9zM141 732h7v1h-7zM149 732h8v1h-8zM159 732h5v2h-5zM221 732h7v1h-7zM229 732h8v1h-8zM238 732h8v1h-8zM295 732h8v1h-8zM304 732h8v1h-8zM313 732h8v1h-8zM322 732h7v1h-7zM348 732h9v1h-9zM381 732h7v1h-7zM390 732h7v1h-7zM398 732h8v1h-8zM407 732h8v1h-8zM470 732h7v1h-7zM478 732h8v1h-8zM487 732h8v1h-8zM549 732h7v1h-7zM558 732h7v1h-7zM597 732h9v1h-9zM629 732h8v1h-8zM638 732h8v1h-8zM647 732h8v1h-8zM656 732h8v1h-8zM714 732h8v1h-8zM723 732h8v1h-8zM732 732h8v1h-8zM744 732h4v1h-4zM771 732h4v3h-4zM798 732h7v1h-7zM807 732h7v1h-7zM846 732h9v1h-9zM878 732h8v1h-8zM887 732h8v1h-8zM896 732h8v1h-8zM908 732h4v1h-4zM963 732h8v1h-8zM972 732h8v1h-8zM981 732h8v1h-8zM1020 732h4v3h-4zM1047 732h7v1h-7zM1132 732h8v1h-8zM1141 732h7v1h-7zM1150 732h7v1h-7zM12 733h4v3h-4zM19 733h4v3h-4zM28 733h2v1h-2zM33 733h2v1h-2zM39 733h3v2h-3zM46 733h3v1h-3zM51 733h3v3h-3zM55 733h3v1h-3zM60 733h3v1h-3zM64 733h3v1h-3zM69 733h3v3h-3zM99 733h2v1h-2zM105 733h3v1h-3zM112 733h2v1h-2zM118 733h2v1h-2zM121 733h3v1h-3zM131 733h3v1h-3zM137 733h2v2h-2zM140 733h3v2h-3zM145 733h3v1h-3zM149 733h3v1h-3zM154 733h3v1h-3zM186 733h2v6h-2zM192 733h2v1h-2zM198 733h2v1h-2zM202 733h2v1h-2zM211 733h3v1h-3zM217 733h2v2h-2zM220 733h3v2h-3zM226 733h2v2h-2zM229 733h3v1h-3zM234 733h3v1h-3zM238 733h3v1h-3zM243 733h3v1h-3zM261 733h4v3h-4zM268 733h4v3h-4zM276 733h3v1h-3zM282 733h2v1h-2zM288 733h3v1h-3zM295 733h3v1h-3zM300 733h3v3h-3zM304 733h3v1h-3zM309 733h3v2h-3zM313 733h2v2h-2zM318 733h3v3h-3zM322 733h2v2h-2zM327 733h3v2h-3zM348 733h2v1h-2zM354 733h3v1h-3zM361 733h2v1h-2zM367 733h2v1h-2zM370 733h3v1h-3zM380 733h3v1h-3zM386 733h2v2h-2zM389 733h3v2h-3zM394 733h3v1h-3zM398 733h3v1h-3zM403 733h3v1h-3zM407 733h3v1h-3zM412 733h3v3h-3zM434 733h3v8h-3zM441 733h2v1h-2zM447 733h2v1h-2zM451 733h2v1h-2zM460 733h3v1h-3zM466 733h2v2h-2zM469 733h3v2h-3zM474 733h3v1h-3zM478 733h3v1h-3zM483 733h3v1h-3zM487 733h3v1h-3zM492 733h3v2h-3zM522 733h4v2h-4zM530 733h2v1h-2zM535 733h3v2h-3zM542 733h2v1h-2zM549 733h2v2h-2zM554 733h3v1h-3zM558 733h2v1h-2zM563 733h6v1h-6zM572 733h2v2h-2zM575 733h3v1h-3zM581 733h2v2h-2zM597 733h2v1h-2zM603 733h3v1h-3zM610 733h2v1h-2zM616 733h2v1h-2zM619 733h3v1h-3zM629 733h3v1h-3zM635 733h2v2h-2zM638 733h3v2h-3zM643 733h3v1h-3zM647 733h3v1h-3zM652 733h3v3h-3zM656 733h2v1h-2zM661 733h3v2h-3zM688 733h3v8h-3zM695 733h2v1h-2zM701 733h2v1h-2zM704 733h2v1h-2zM714 733h3v1h-3zM719 733h3v1h-3zM723 733h3v1h-3zM728 733h3v1h-3zM732 733h3v1h-3zM737 733h3v3h-3zM743 733h5v2h-5zM779 733h2v1h-2zM784 733h3v2h-3zM791 733h2v1h-2zM798 733h2v2h-2zM803 733h3v1h-3zM807 733h2v1h-2zM812 733h6v1h-6zM821 733h2v2h-2zM827 733h4v1h-4zM846 733h2v2h-2zM852 733h3v1h-3zM859 733h2v1h-2zM865 733h2v1h-2zM868 733h3v1h-3zM878 733h3v1h-3zM883 733h3v1h-3zM887 733h3v1h-3zM892 733h3v1h-3zM896 733h3v1h-3zM901 733h3v3h-3zM907 733h5v2h-5zM937 733h3v8h-3zM944 733h2v1h-2zM950 733h2v1h-2zM953 733h2v1h-2zM963 733h3v1h-3zM968 733h3v3h-3zM972 733h3v1h-3zM977 733h3v1h-3zM981 733h3v1h-3zM986 733h3v3h-3zM990 733h2v3h-2zM1028 733h2v1h-2zM1033 733h3v2h-3zM1040 733h2v1h-2zM1047 733h2v2h-2zM1052 733h3v1h-3zM1056 733h2v1h-2zM1061 733h6v1h-6zM1070 733h2v2h-2zM1074 733h2v2h-2zM1099 733h3v2h-3zM1106 733h3v1h-3zM1112 733h3v1h-3zM1119 733h2v1h-2zM1122 733h2v1h-2zM1132 733h3v1h-3zM1137 733h3v3h-3zM1141 733h3v1h-3zM1146 733h3v2h-3zM1150 733h2v2h-2zM1155 733h3v2h-3zM1159 733h2v3h-2zM25 734h7v2h-7zM33 734h3v2h-3zM47 734h1v1h-1zM55 734h2v6h-2zM61 734h2v5h-2zM64 734h2v1h-2zM73 734h2v1h-2zM76 734h2v7h-2zM99 734h3v1h-3zM110 734h6v1h-6zM118 734h7v1h-7zM132 734h2v1h-2zM146 734h2v2h-2zM150 734h1v1h-1zM155 734h2v1h-2zM159 734h1v1h-1zM161 734h3v7h-3zM190 734h6v1h-6zM198 734h7v1h-7zM212 734h2v1h-2zM230 734h2v1h-2zM235 734h2v1h-2zM239 734h1v1h-1zM244 734h2v1h-2zM274 734h7v2h-7zM282 734h3v2h-3zM288 734h2v1h-2zM296 734h1v1h-1zM304 734h2v6h-2zM348 734h3v1h-3zM359 734h6v1h-6zM367 734h7v1h-7zM381 734h2v1h-2zM395 734h2v2h-2zM399 734h1v1h-1zM404 734h2v1h-2zM408 734h1v1h-1zM439 734h6v1h-6zM447 734h7v1h-7zM461 734h2v1h-2zM475 734h2v2h-2zM479 734h1v1h-1zM484 734h2v1h-2zM514 734h5v3h-5zM528 734h6v1h-6zM541 734h3v2h-3zM554 734h6v1h-6zM563 734h3v7h-3zM567 734h2v1h-2zM597 734h3v1h-3zM608 734h6v1h-6zM616 734h7v1h-7zM630 734h2v1h-2zM644 734h2v6h-2zM648 734h1v1h-1zM692 734h7v2h-7zM701 734h7v1h-7zM715 734h1v1h-1zM720 734h2v1h-2zM723 734h2v6h-2zM729 734h2v5h-2zM732 734h2v1h-2zM763 734h5v3h-5zM777 734h6v1h-6zM790 734h3v2h-3zM803 734h6v1h-6zM812 734h3v6h-3zM816 734h2v1h-2zM826 734h5v2h-5zM857 734h6v1h-6zM865 734h7v1h-7zM879 734h2v1h-2zM884 734h2v1h-2zM887 734h2v5h-2zM893 734h2v6h-2zM897 734h1v1h-1zM941 734h7v2h-7zM950 734h7v2h-7zM964 734h1v1h-1zM972 734h2v6h-2zM978 734h2v5h-2zM981 734h2v1h-2zM1012 734h5v3h-5zM1026 734h6v1h-6zM1039 734h3v2h-3zM1052 734h6v1h-6zM1061 734h3v6h-3zM1065 734h2v1h-2zM1110 734h7v2h-7zM1119 734h7v1h-7zM1132 734h2v1h-2zM1141 734h2v6h-2zM38 735h3v2h-3zM99 735h5v1h-5zM109 735h8v1h-8zM118 735h4v1h-4zM123 735h3v2h-3zM136 735h3v1h-3zM140 735h2v4h-2zM154 735h3v1h-3zM189 735h8v1h-8zM198 735h4v1h-4zM203 735h3v2h-3zM216 735h3v1h-3zM220 735h2v3h-2zM226 735h3v3h-3zM234 735h3v1h-3zM243 735h3v1h-3zM287 735h3v2h-3zM310 735h2v4h-2zM327 735h2v1h-2zM348 735h5v1h-5zM358 735h8v1h-8zM367 735h8v1h-8zM385 735h3v1h-3zM389 735h2v4h-2zM403 735h3v1h-3zM438 735h8v1h-8zM447 735h4v1h-4zM452 735h3v8h-3zM465 735h3v1h-3zM469 735h2v4h-2zM483 735h3v1h-3zM489 735h6v1h-6zM521 735h5v2h-5zM528 735h7v3h-7zM536 735h3v2h-3zM554 735h2v1h-2zM557 735h3v4h-3zM571 735h3v2h-3zM578 735h5v1h-5zM597 735h5v1h-5zM607 735h8v1h-8zM616 735h8v1h-8zM634 735h3v1h-3zM638 735h2v4h-2zM658 735h6v1h-6zM701 735h8v1h-8zM719 735h3v1h-3zM742 735h6v1h-6zM770 735h5v2h-5zM776 735h8v1h-8zM785 735h3v2h-3zM803 735h2v1h-2zM806 735h3v5h-3zM820 735h3v1h-3zM846 735h5v1h-5zM856 735h8v1h-8zM865 735h8v1h-8zM883 735h3v1h-3zM906 735h6v1h-6zM993 735h2v1h-2zM1019 735h5v2h-5zM1025 735h8v1h-8zM1034 735h3v2h-3zM1052 735h2v1h-2zM1055 735h3v5h-3zM1069 735h3v1h-3zM1073 735h3v1h-3zM1077 735h1v1h-1zM1100 735h5v1h-5zM1119 735h8v1h-8zM1147 735h2v4h-2zM1155 735h2v1h-2zM1162 735h2v1h-2zM12 736h5v1h-5zM18 736h5v2h-5zM26 736h1v1h-1zM28 736h4v1h-4zM34 736h2v1h-2zM50 736h3v1h-3zM68 736h3v1h-3zM100 736h7v1h-7zM109 736h3v1h-3zM114 736h3v1h-3zM118 736h3v5h-3zM135 736h4v1h-4zM146 736h3v2h-3zM153 736h3v1h-3zM190 736h7v2h-7zM198 736h3v5h-3zM215 736h4v1h-4zM233 736h4v1h-4zM242 736h3v1h-3zM261 736h5v2h-5zM267 736h5v2h-5zM275 736h6v1h-6zM283 736h2v1h-2zM299 736h3v1h-3zM317 736h3v1h-3zM326 736h3v1h-3zM348 736h8v1h-8zM358 736h3v1h-3zM363 736h3v1h-3zM367 736h3v5h-3zM372 736h3v1h-3zM384 736h4v1h-4zM395 736h3v1h-3zM402 736h3v1h-3zM411 736h3v1h-3zM439 736h7v2h-7zM447 736h3v5h-3zM464 736h4v1h-4zM475 736h3v2h-3zM482 736h3v1h-3zM489 736h5v1h-5zM541 736h2v2h-2zM553 736h3v1h-3zM578 736h4v1h-4zM597 736h8v1h-8zM607 736h3v1h-3zM612 736h3v1h-3zM616 736h3v2h-3zM621 736h3v1h-3zM633 736h4v1h-4zM651 736h3v1h-3zM658 736h5v1h-5zM693 736h1v1h-1zM695 736h5v1h-5zM701 736h3v1h-3zM706 736h3v7h-3zM718 736h3v1h-3zM736 736h3v1h-3zM741 736h3v2h-3zM745 736h3v2h-3zM777 736h7v2h-7zM790 736h2v1h-2zM802 736h3v1h-3zM819 736h4v1h-4zM825 736h3v1h-3zM829 736h2v2h-2zM846 736h8v1h-8zM856 736h3v1h-3zM861 736h3v1h-3zM865 736h3v1h-3zM870 736h3v1h-3zM882 736h4v1h-4zM900 736h3v1h-3zM906 736h2v1h-2zM909 736h3v2h-3zM942 736h1v1h-1zM944 736h4v1h-4zM950 736h3v1h-3zM955 736h3v7h-3zM967 736h3v1h-3zM985 736h3v1h-3zM990 736h7v1h-7zM1026 736h7v2h-7zM1039 736h2v1h-2zM1051 736h3v1h-3zM1068 736h4v1h-4zM1073 736h8v2h-8zM1100 736h8v1h-8zM1110 736h2v1h-2zM1115 736h3v1h-3zM1119 736h2v4h-2zM1124 736h3v5h-3zM1136 736h3v1h-3zM1154 736h3v1h-3zM1159 736h7v1h-7zM12 737h2v6h-2zM15 737h2v1h-2zM25 737h7v1h-7zM34 737h3v1h-3zM38 737h2v1h-2zM49 737h4v1h-4zM67 737h3v1h-3zM102 737h6v1h-6zM109 737h8v3h-8zM124 737h2v3h-2zM134 737h4v1h-4zM152 737h4v1h-4zM204 737h2v6h-2zM214 737h4v1h-4zM232 737h4v1h-4zM241 737h4v1h-4zM274 737h7v1h-7zM283 737h3v1h-3zM287 737h2v1h-2zM298 737h4v1h-4zM316 737h3v1h-3zM325 737h3v1h-3zM350 737h7v1h-7zM358 737h8v3h-8zM373 737h2v3h-2zM383 737h4v1h-4zM395 737h2v3h-2zM401 737h4v1h-4zM410 737h4v1h-4zM463 737h4v1h-4zM481 737h4v1h-4zM489 737h6v1h-6zM514 737h6v1h-6zM521 737h2v1h-2zM524 737h2v6h-2zM537 737h2v1h-2zM552 737h3v1h-3zM569 737h4v1h-4zM578 737h5v1h-5zM599 737h7v1h-7zM607 737h8v3h-8zM622 737h2v3h-2zM632 737h4v1h-4zM650 737h4v1h-4zM658 737h6v1h-6zM692 737h8v1h-8zM701 737h2v4h-2zM717 737h4v1h-4zM735 737h3v1h-3zM763 737h6v1h-6zM770 737h2v1h-2zM773 737h2v6h-2zM786 737h2v1h-2zM789 737h3v1h-3zM801 737h3v1h-3zM818 737h4v1h-4zM824 737h3v1h-3zM848 737h7v1h-7zM856 737h8v3h-8zM865 737h2v3h-2zM871 737h2v3h-2zM881 737h4v1h-4zM899 737h4v1h-4zM905 737h3v1h-3zM941 737h7v1h-7zM950 737h2v4h-2zM966 737h4v1h-4zM984 737h3v1h-3zM990 737h8v1h-8zM1012 737h6v1h-6zM1019 737h2v1h-2zM1022 737h2v6h-2zM1035 737h2v1h-2zM1038 737h3v1h-3zM1050 737h3v1h-3zM1067 737h4v1h-4zM1102 737h16v1h-16zM1135 737h4v1h-4zM1153 737h3v1h-3zM1159 737h8v1h-8zM15 738h5v2h-5zM21 738h2v5h-2zM25 738h3v1h-3zM30 738h2v2h-2zM34 738h6v1h-6zM48 738h4v1h-4zM66 738h3v1h-3zM105 738h3v1h-3zM133 738h4v1h-4zM146 738h2v2h-2zM151 738h4v1h-4zM189 738h4v1h-4zM194 738h3v3h-3zM213 738h4v1h-4zM220 738h3v3h-3zM226 738h2v2h-2zM231 738h4v1h-4zM240 738h4v1h-4zM261 738h2v5h-2zM264 738h2v1h-2zM267 738h2v1h-2zM270 738h2v5h-2zM274 738h3v1h-3zM279 738h2v2h-2zM283 738h6v1h-6zM297 738h4v1h-4zM315 738h3v1h-3zM324 738h3v1h-3zM354 738h3v1h-3zM382 738h4v1h-4zM400 738h4v1h-4zM409 738h4v1h-4zM438 738h4v1h-4zM443 738h3v3h-3zM462 738h4v1h-4zM475 738h2v2h-2zM480 738h4v1h-4zM492 738h3v1h-3zM514 738h3v5h-3zM518 738h5v2h-5zM527 738h4v1h-4zM533 738h2v1h-2zM537 738h6v1h-6zM551 738h3v1h-3zM568 738h4v1h-4zM581 738h3v3h-3zM603 738h3v1h-3zM616 738h2v1h-2zM631 738h4v1h-4zM649 738h4v1h-4zM661 738h3v1h-3zM692 738h3v1h-3zM697 738h3v2h-3zM716 738h4v1h-4zM734 738h3v1h-3zM740 738h9v3h-9zM763 738h3v5h-3zM767 738h5v2h-5zM776 738h4v1h-4zM782 738h2v1h-2zM786 738h6v1h-6zM800 738h3v1h-3zM817 738h4v1h-4zM824 738h9v3h-9zM852 738h3v1h-3zM880 738h4v1h-4zM898 738h4v1h-4zM904 738h9v3h-9zM941 738h3v1h-3zM946 738h2v2h-2zM965 738h4v1h-4zM983 738h3v1h-3zM995 738h3v3h-3zM1012 738h9v1h-9zM1025 738h4v1h-4zM1031 738h2v1h-2zM1035 738h6v1h-6zM1049 738h3v1h-3zM1066 738h4v1h-4zM1079 738h3v2h-3zM1105 738h13v1h-13zM1134 738h3v1h-3zM1152 738h3v1h-3zM1164 738h3v3h-3zM24 739h3v2h-3zM35 739h5v1h-5zM47 739h4v1h-4zM60 739h3v2h-3zM65 739h3v1h-3zM98 739h3v2h-3zM106 739h2v1h-2zM132 739h4v1h-4zM140 739h3v2h-3zM150 739h4v1h-4zM180 739h3v1h-3zM185 739h3v2h-3zM189 739h2v2h-2zM212 739h4v1h-4zM230 739h4v1h-4zM239 739h4v1h-4zM264 739h5v1h-5zM273 739h3v2h-3zM284 739h5v1h-5zM296 739h4v1h-4zM309 739h3v2h-3zM314 739h3v1h-3zM323 739h3v1h-3zM347 739h3v2h-3zM355 739h2v1h-2zM381 739h4v1h-4zM389 739h3v2h-3zM399 739h4v1h-4zM408 739h4v1h-4zM429 739h3v2h-3zM438 739h2v2h-2zM461 739h4v1h-4zM469 739h3v2h-3zM479 739h4v1h-4zM487 739h2v1h-2zM493 739h2v1h-2zM527 739h3v2h-3zM532 739h3v2h-3zM537 739h5v1h-5zM550 739h3v1h-3zM558 739h2v1h-2zM568 739h3v1h-3zM575 739h3v2h-3zM596 739h3v2h-3zM604 739h2v1h-2zM616 739h3v2h-3zM630 739h4v1h-4zM638 739h3v2h-3zM648 739h4v1h-4zM656 739h2v1h-2zM662 739h2v1h-2zM683 739h3v2h-3zM692 739h2v2h-2zM715 739h4v1h-4zM728 739h3v2h-3zM733 739h3v1h-3zM776 739h3v2h-3zM781 739h3v2h-3zM786 739h5v1h-5zM799 739h3v1h-3zM816 739h4v1h-4zM845 739h3v2h-3zM853 739h2v1h-2zM879 739h4v1h-4zM887 739h3v2h-3zM897 739h4v1h-4zM932 739h3v2h-3zM941 739h2v2h-2zM964 739h4v1h-4zM977 739h3v2h-3zM982 739h3v1h-3zM1012 739h3v4h-3zM1016 739h5v1h-5zM1025 739h3v2h-3zM1030 739h3v2h-3zM1035 739h5v1h-5zM1048 739h3v1h-3zM1065 739h4v1h-4zM1099 739h2v1h-2zM1106 739h3v2h-3zM1110 739h8v1h-8zM1133 739h3v1h-3zM1146 739h3v2h-3zM1151 739h3v1h-3zM16 740h4v1h-4zM29 740h3v1h-3zM35 740h4v1h-4zM46 740h4v1h-4zM55 740h3v1h-3zM64 740h3v1h-3zM105 740h3v1h-3zM109 740h3v1h-3zM115 740h2v1h-2zM123 740h3v1h-3zM132 740h3v1h-3zM145 740h3v1h-3zM150 740h3v1h-3zM181 740h2v1h-2zM212 740h3v1h-3zM225 740h3v1h-3zM230 740h3v1h-3zM238 740h4v1h-4zM265 740h4v1h-4zM278 740h3v1h-3zM284 740h4v2h-4zM295 740h4v1h-4zM304 740h3v1h-3zM313 740h3v1h-3zM322 740h3v1h-3zM354 740h3v1h-3zM358 740h3v1h-3zM364 740h2v1h-2zM372 740h3v1h-3zM381 740h3v1h-3zM394 740h3v1h-3zM398 740h4v1h-4zM407 740h4v1h-4zM461 740h3v1h-3zM474 740h3v1h-3zM479 740h3v1h-3zM487 740h3v1h-3zM492 740h3v1h-3zM518 740h4v1h-4zM538 740h4v2h-4zM549 740h3v1h-3zM558 740h3v1h-3zM567 740h3v1h-3zM603 740h3v1h-3zM607 740h3v1h-3zM613 740h2v1h-2zM621 740h3v1h-3zM630 740h3v1h-3zM643 740h3v1h-3zM647 740h4v1h-4zM656 740h3v1h-3zM661 740h3v1h-3zM696 740h4v1h-4zM714 740h4v1h-4zM723 740h3v1h-3zM732 740h3v1h-3zM767 740h4v1h-4zM787 740h4v2h-4zM798 740h3v1h-3zM807 740h2v1h-2zM812 740h2v1h-2zM816 740h3v1h-3zM852 740h3v1h-3zM856 740h3v1h-3zM862 740h2v1h-2zM865 740h3v1h-3zM870 740h3v1h-3zM879 740h3v1h-3zM892 740h3v1h-3zM896 740h4v1h-4zM945 740h4v1h-4zM963 740h4v1h-4zM972 740h3v1h-3zM981 740h3v1h-3zM989 740h3v1h-3zM1016 740h4v1h-4zM1036 740h4v1h-4zM1047 740h3v1h-3zM1056 740h2v1h-2zM1061 740h2v1h-2zM1065 740h3v1h-3zM1073 740h3v1h-3zM1079 740h2v1h-2zM1099 740h3v1h-3zM1110 740h2v1h-2zM1115 740h3v1h-3zM1119 740h3v1h-3zM1132 740h3v1h-3zM1141 740h3v1h-3zM1150 740h3v1h-3zM1158 740h3v1h-3zM16 741h3v2h-3zM25 741h9v2h-9zM36 741h3v2h-3zM46 741h8v2h-8zM55 741h7v1h-7zM64 741h8v2h-8zM73 741h8v2h-8zM99 741h9v1h-9zM109 741h8v1h-8zM118 741h8v1h-8zM131 741h8v2h-8zM141 741h7v1h-7zM149 741h8v2h-8zM158 741h8v2h-8zM181 741h7v1h-7zM189 741h12v2h-12zM211 741h9v2h-9zM221 741h7v1h-7zM229 741h8v2h-8zM238 741h8v2h-8zM265 741h3v2h-3zM274 741h9v2h-9zM295 741h8v2h-8zM304 741h7v1h-7zM313 741h8v2h-8zM322 741h8v2h-8zM348 741h9v1h-9zM358 741h8v1h-8zM367 741h8v1h-8zM380 741h8v2h-8zM390 741h7v1h-7zM398 741h8v2h-8zM407 741h8v2h-8zM430 741h7v1h-7zM438 741h12v2h-12zM460 741h8v2h-8zM470 741h7v1h-7zM478 741h8v2h-8zM487 741h8v1h-8zM519 741h3v2h-3zM527 741h9v1h-9zM549 741h8v2h-8zM558 741h7v1h-7zM566 741h17v1h-17zM597 741h9v1h-9zM607 741h8v1h-8zM616 741h8v1h-8zM629 741h8v2h-8zM639 741h7v1h-7zM647 741h8v2h-8zM656 741h8v1h-8zM684 741h6v2h-6zM692 741h11v2h-11zM714 741h8v2h-8zM723 741h7v1h-7zM732 741h8v2h-8zM745 741h3v2h-3zM768 741h3v2h-3zM776 741h9v1h-9zM798 741h8v2h-8zM807 741h7v1h-7zM815 741h9v2h-9zM829 741h2v2h-2zM846 741h9v1h-9zM856 741h8v1h-8zM865 741h8v1h-8zM878 741h8v2h-8zM888 741h7v1h-7zM896 741h8v2h-8zM909 741h3v2h-3zM932 741h7v1h-7zM941 741h11v2h-11zM963 741h8v2h-8zM972 741h7v1h-7zM981 741h8v2h-8zM990 741h8v1h-8zM1017 741h3v1h-3zM1025 741h9v1h-9zM1036 741h3v3h-3zM1047 741h8v1h-8zM1056 741h7v1h-7zM1064 741h17v1h-17zM1099 741h10v1h-10zM1110 741h8v1h-8zM1119 741h7v2h-7zM1132 741h8v2h-8zM1141 741h7v1h-7zM1150 741h8v2h-8zM1159 741h7v2h-7zM56 742h6v1h-6zM100 742h7v1h-7zM110 742h6v1h-6zM118 742h7v1h-7zM141 742h6v1h-6zM182 742h5v1h-5zM221 742h6v1h-6zM285 742h2v1h-2zM305 742h6v1h-6zM349 742h7v1h-7zM359 742h6v1h-6zM367 742h7v1h-7zM390 742h6v1h-6zM430 742h6v1h-6zM470 742h6v1h-6zM488 742h6v1h-6zM528 742h8v1h-8zM539 742h2v1h-2zM559 742h5v1h-5zM566 742h9v1h-9zM576 742h7v1h-7zM597 742h8v1h-8zM608 742h6v1h-6zM616 742h7v1h-7zM639 742h6v1h-6zM657 742h6v1h-6zM724 742h6v1h-6zM777 742h8v1h-8zM787 742h3v2h-3zM808 742h5v1h-5zM846 742h8v1h-8zM857 742h6v1h-6zM865 742h7v1h-7zM888 742h6v1h-6zM933 742h6v1h-6zM973 742h6v1h-6zM990 742h7v1h-7zM1017 742h2v1h-2zM1026 742h8v1h-8zM1046 742h9v1h-9zM1057 742h5v1h-5zM1064 742h9v1h-9zM1074 742h6v1h-6zM1100 742h8v1h-8zM1111 742h6v1h-6zM1142 742h6v1h-6zM35 743h3v1h-3zM118 743h3v3h-3zM284 743h3v1h-3zM367 743h2v3h-2zM538 743h3v1h-3zM616 743h2v3h-2zM865 743h2v3h-2zM1119 743h2v3h-2zM33 744h5v1h-5zM282 744h5v1h-5zM536 744h4v2h-4zM785 744h4v2h-4zM1034 744h4v2h-4zM33 745h4v1h-4zM282 745h4v1h-4z"/>
</svg>
</body></html>
